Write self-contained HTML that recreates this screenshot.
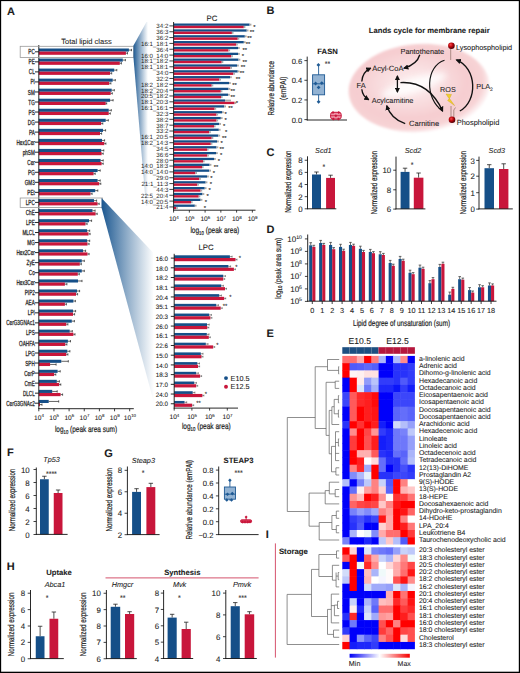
<!DOCTYPE html>
<html><head><meta charset="utf-8"><title>Figure</title>
<style>
html,body{margin:0;padding:0;background:#fff;}
body{width:520px;height:673px;overflow:hidden;}
svg{display:block;font-family:"Liberation Sans", sans-serif;text-rendering:geometricPrecision;}
svg text{fill:#1c1c1c;stroke:#1c1c1c;stroke-width:0.08px;}
</style></head>
<body>
<svg width="520" height="673" viewBox="0 0 520 673">
<rect x="0" y="0" width="520" height="673" fill="#fff"/>
<text x="7.00" y="14.80" font-size="11" font-weight="bold" fill="#000">A</text>
<text x="86.50" y="43.50" font-size="7.5" text-anchor="middle">Total lipid class</text>
<rect x="38.80" y="48.50" width="90.10" height="3.10" fill="#154f88"/>
<rect x="38.80" y="51.60" width="87.10" height="3.20" fill="#c8163b"/>
<line x1="128.90" y1="50.05" x2="131.50" y2="50.05" stroke="#222" stroke-width="0.7"/>
<line x1="131.50" y1="48.90" x2="131.50" y2="51.20" stroke="#222" stroke-width="0.7"/>
<line x1="125.90" y1="53.20" x2="127.50" y2="53.20" stroke="#222" stroke-width="0.7"/>
<line x1="127.50" y1="52.10" x2="127.50" y2="54.40" stroke="#222" stroke-width="0.7"/>
<line x1="35.00" y1="51.80" x2="38.80" y2="51.80" stroke="#111" stroke-width="0.9"/>
<text x="34.80" y="54.35" font-size="7.3" text-anchor="end" textLength="6.44" lengthAdjust="spacingAndGlyphs" style="stroke-width:0.28px">PC</text>
<rect x="38.80" y="58.54" width="84.00" height="3.10" fill="#154f88"/>
<rect x="38.80" y="61.64" width="81.00" height="3.20" fill="#c8163b"/>
<line x1="122.80" y1="60.09" x2="125.40" y2="60.09" stroke="#222" stroke-width="0.7"/>
<line x1="125.40" y1="58.94" x2="125.40" y2="61.24" stroke="#222" stroke-width="0.7"/>
<line x1="119.80" y1="63.24" x2="121.40" y2="63.24" stroke="#222" stroke-width="0.7"/>
<line x1="121.40" y1="62.14" x2="121.40" y2="64.44" stroke="#222" stroke-width="0.7"/>
<line x1="35.00" y1="61.84" x2="38.80" y2="61.84" stroke="#111" stroke-width="0.9"/>
<text x="34.80" y="64.39" font-size="7.3" text-anchor="end" textLength="6.18" lengthAdjust="spacingAndGlyphs" style="stroke-width:0.28px">PE</text>
<rect x="38.80" y="68.58" width="75.40" height="3.10" fill="#154f88"/>
<rect x="38.80" y="71.68" width="71.30" height="3.20" fill="#c8163b"/>
<line x1="114.20" y1="70.13" x2="116.80" y2="70.13" stroke="#222" stroke-width="0.7"/>
<line x1="116.80" y1="68.98" x2="116.80" y2="71.28" stroke="#222" stroke-width="0.7"/>
<line x1="110.10" y1="73.28" x2="111.70" y2="73.28" stroke="#222" stroke-width="0.7"/>
<line x1="111.70" y1="72.18" x2="111.70" y2="74.48" stroke="#222" stroke-width="0.7"/>
<line x1="35.00" y1="71.88" x2="38.80" y2="71.88" stroke="#111" stroke-width="0.9"/>
<text x="34.80" y="74.43" font-size="7.3" text-anchor="end" textLength="5.93" lengthAdjust="spacingAndGlyphs" style="stroke-width:0.28px">CL</text>
<rect x="38.80" y="78.62" width="73.90" height="3.10" fill="#154f88"/>
<rect x="38.80" y="81.72" width="70.50" height="3.20" fill="#c8163b"/>
<line x1="112.70" y1="80.17" x2="115.30" y2="80.17" stroke="#222" stroke-width="0.7"/>
<line x1="115.30" y1="79.02" x2="115.30" y2="81.32" stroke="#222" stroke-width="0.7"/>
<line x1="109.30" y1="83.32" x2="110.90" y2="83.32" stroke="#222" stroke-width="0.7"/>
<line x1="110.90" y1="82.22" x2="110.90" y2="84.52" stroke="#222" stroke-width="0.7"/>
<line x1="35.00" y1="81.92" x2="38.80" y2="81.92" stroke="#111" stroke-width="0.9"/>
<text x="34.80" y="84.47" font-size="7.3" text-anchor="end" textLength="4.38" lengthAdjust="spacingAndGlyphs" style="stroke-width:0.28px">PI</text>
<rect x="38.80" y="88.66" width="72.90" height="3.10" fill="#154f88"/>
<rect x="38.80" y="91.76" width="71.90" height="3.20" fill="#c8163b"/>
<line x1="111.70" y1="90.21" x2="114.30" y2="90.21" stroke="#222" stroke-width="0.7"/>
<line x1="114.30" y1="89.06" x2="114.30" y2="91.36" stroke="#222" stroke-width="0.7"/>
<line x1="110.70" y1="93.36" x2="112.30" y2="93.36" stroke="#222" stroke-width="0.7"/>
<line x1="112.30" y1="92.26" x2="112.30" y2="94.56" stroke="#222" stroke-width="0.7"/>
<line x1="35.00" y1="91.96" x2="38.80" y2="91.96" stroke="#111" stroke-width="0.9"/>
<text x="34.80" y="94.51" font-size="7.3" text-anchor="end" textLength="6.95" lengthAdjust="spacingAndGlyphs" style="stroke-width:0.28px">SM</text>
<rect x="38.80" y="98.70" width="71.30" height="3.10" fill="#154f88"/>
<rect x="38.80" y="101.80" width="66.90" height="3.20" fill="#c8163b"/>
<line x1="110.10" y1="100.25" x2="113.10" y2="100.25" stroke="#222" stroke-width="0.7"/>
<line x1="113.10" y1="99.10" x2="113.10" y2="101.40" stroke="#222" stroke-width="0.7"/>
<line x1="105.70" y1="103.40" x2="106.70" y2="103.40" stroke="#222" stroke-width="0.7"/>
<line x1="106.70" y1="102.30" x2="106.70" y2="104.60" stroke="#222" stroke-width="0.7"/>
<line x1="35.00" y1="102.00" x2="38.80" y2="102.00" stroke="#111" stroke-width="0.9"/>
<text x="34.80" y="104.55" font-size="7.3" text-anchor="end" textLength="6.44" lengthAdjust="spacingAndGlyphs" style="stroke-width:0.28px">TG</text>
<rect x="38.80" y="108.74" width="69.90" height="3.10" fill="#154f88"/>
<rect x="38.80" y="111.84" width="69.90" height="3.20" fill="#c8163b"/>
<line x1="108.70" y1="110.29" x2="111.30" y2="110.29" stroke="#222" stroke-width="0.7"/>
<line x1="111.30" y1="109.14" x2="111.30" y2="111.44" stroke="#222" stroke-width="0.7"/>
<line x1="108.70" y1="113.44" x2="110.30" y2="113.44" stroke="#222" stroke-width="0.7"/>
<line x1="110.30" y1="112.34" x2="110.30" y2="114.64" stroke="#222" stroke-width="0.7"/>
<line x1="35.00" y1="112.04" x2="38.80" y2="112.04" stroke="#111" stroke-width="0.9"/>
<text x="34.80" y="114.59" font-size="7.3" text-anchor="end" textLength="6.18" lengthAdjust="spacingAndGlyphs" style="stroke-width:0.28px">PS</text>
<rect x="38.80" y="118.78" width="66.90" height="3.10" fill="#154f88"/>
<rect x="38.80" y="121.88" width="62.40" height="3.20" fill="#c8163b"/>
<line x1="105.70" y1="120.33" x2="108.30" y2="120.33" stroke="#222" stroke-width="0.7"/>
<line x1="108.30" y1="119.18" x2="108.30" y2="121.48" stroke="#222" stroke-width="0.7"/>
<line x1="101.20" y1="123.48" x2="102.80" y2="123.48" stroke="#222" stroke-width="0.7"/>
<line x1="102.80" y1="122.38" x2="102.80" y2="124.68" stroke="#222" stroke-width="0.7"/>
<line x1="35.00" y1="122.08" x2="38.80" y2="122.08" stroke="#111" stroke-width="0.9"/>
<text x="34.80" y="124.63" font-size="7.3" text-anchor="end" textLength="6.95" lengthAdjust="spacingAndGlyphs" style="stroke-width:0.28px">DG</text>
<rect x="38.80" y="128.82" width="64.20" height="3.10" fill="#154f88"/>
<rect x="38.80" y="131.92" width="61.20" height="3.20" fill="#c8163b"/>
<line x1="103.00" y1="130.37" x2="105.60" y2="130.37" stroke="#222" stroke-width="0.7"/>
<line x1="105.60" y1="129.22" x2="105.60" y2="131.52" stroke="#222" stroke-width="0.7"/>
<line x1="100.00" y1="133.52" x2="101.60" y2="133.52" stroke="#222" stroke-width="0.7"/>
<line x1="101.60" y1="132.42" x2="101.60" y2="134.72" stroke="#222" stroke-width="0.7"/>
<line x1="35.00" y1="132.12" x2="38.80" y2="132.12" stroke="#111" stroke-width="0.9"/>
<text x="34.80" y="134.67" font-size="7.3" text-anchor="end" textLength="5.84" lengthAdjust="spacingAndGlyphs" style="stroke-width:0.28px">PA</text>
<rect x="38.80" y="138.86" width="63.20" height="3.10" fill="#154f88"/>
<rect x="38.80" y="141.96" width="65.50" height="3.20" fill="#c8163b"/>
<line x1="102.00" y1="140.41" x2="104.60" y2="140.41" stroke="#222" stroke-width="0.7"/>
<line x1="104.60" y1="139.26" x2="104.60" y2="141.56" stroke="#222" stroke-width="0.7"/>
<line x1="104.30" y1="143.56" x2="105.90" y2="143.56" stroke="#222" stroke-width="0.7"/>
<line x1="105.90" y1="142.46" x2="105.90" y2="144.76" stroke="#222" stroke-width="0.7"/>
<line x1="35.00" y1="142.16" x2="38.80" y2="142.16" stroke="#111" stroke-width="0.9"/>
<text x="34.80" y="144.71" font-size="7.3" text-anchor="end" textLength="18.29" lengthAdjust="spacingAndGlyphs" style="stroke-width:0.28px">Hex1Cer</text>
<rect x="38.80" y="148.90" width="62.40" height="3.10" fill="#154f88"/>
<rect x="38.80" y="152.00" width="62.80" height="3.20" fill="#c8163b"/>
<line x1="101.20" y1="150.45" x2="103.80" y2="150.45" stroke="#222" stroke-width="0.7"/>
<line x1="103.80" y1="149.30" x2="103.80" y2="151.60" stroke="#222" stroke-width="0.7"/>
<line x1="101.60" y1="153.60" x2="103.20" y2="153.60" stroke="#222" stroke-width="0.7"/>
<line x1="103.20" y1="152.50" x2="103.20" y2="154.80" stroke="#222" stroke-width="0.7"/>
<line x1="35.00" y1="152.20" x2="38.80" y2="152.20" stroke="#111" stroke-width="0.9"/>
<text x="34.80" y="154.75" font-size="7.3" text-anchor="end" textLength="12.11" lengthAdjust="spacingAndGlyphs" style="stroke-width:0.28px">phSM</text>
<rect x="38.80" y="158.94" width="61.80" height="3.10" fill="#154f88"/>
<rect x="38.80" y="162.04" width="62.80" height="3.20" fill="#c8163b"/>
<line x1="100.60" y1="160.49" x2="103.20" y2="160.49" stroke="#222" stroke-width="0.7"/>
<line x1="103.20" y1="159.34" x2="103.20" y2="161.64" stroke="#222" stroke-width="0.7"/>
<line x1="101.60" y1="163.64" x2="103.20" y2="163.64" stroke="#222" stroke-width="0.7"/>
<line x1="103.20" y1="162.54" x2="103.20" y2="164.84" stroke="#222" stroke-width="0.7"/>
<line x1="35.00" y1="162.24" x2="38.80" y2="162.24" stroke="#111" stroke-width="0.9"/>
<text x="34.80" y="164.79" font-size="7.3" text-anchor="end" textLength="7.47" lengthAdjust="spacingAndGlyphs" style="stroke-width:0.28px">Cer</text>
<rect x="38.80" y="168.98" width="58.80" height="3.10" fill="#154f88"/>
<rect x="38.80" y="172.08" width="54.80" height="3.20" fill="#c8163b"/>
<line x1="97.60" y1="170.53" x2="100.20" y2="170.53" stroke="#222" stroke-width="0.7"/>
<line x1="100.20" y1="169.38" x2="100.20" y2="171.68" stroke="#222" stroke-width="0.7"/>
<line x1="93.60" y1="173.68" x2="95.20" y2="173.68" stroke="#222" stroke-width="0.7"/>
<line x1="95.20" y1="172.58" x2="95.20" y2="174.88" stroke="#222" stroke-width="0.7"/>
<line x1="35.00" y1="172.28" x2="38.80" y2="172.28" stroke="#111" stroke-width="0.9"/>
<text x="34.80" y="174.83" font-size="7.3" text-anchor="end" textLength="6.70" lengthAdjust="spacingAndGlyphs" style="stroke-width:0.28px">PG</text>
<rect x="38.80" y="179.02" width="58.80" height="3.10" fill="#154f88"/>
<rect x="38.80" y="182.12" width="60.40" height="3.20" fill="#c8163b"/>
<line x1="97.60" y1="180.57" x2="100.20" y2="180.57" stroke="#222" stroke-width="0.7"/>
<line x1="100.20" y1="179.42" x2="100.20" y2="181.72" stroke="#222" stroke-width="0.7"/>
<line x1="99.20" y1="183.72" x2="100.80" y2="183.72" stroke="#222" stroke-width="0.7"/>
<line x1="100.80" y1="182.62" x2="100.80" y2="184.92" stroke="#222" stroke-width="0.7"/>
<line x1="35.00" y1="182.32" x2="38.80" y2="182.32" stroke="#111" stroke-width="0.9"/>
<text x="34.80" y="184.87" font-size="7.3" text-anchor="end" textLength="10.04" lengthAdjust="spacingAndGlyphs" style="stroke-width:0.28px">GM3</text>
<rect x="38.80" y="189.06" width="56.40" height="3.10" fill="#154f88"/>
<rect x="38.80" y="192.16" width="51.70" height="3.20" fill="#c8163b"/>
<line x1="95.20" y1="190.61" x2="97.80" y2="190.61" stroke="#222" stroke-width="0.7"/>
<line x1="97.80" y1="189.46" x2="97.80" y2="191.76" stroke="#222" stroke-width="0.7"/>
<line x1="90.50" y1="193.76" x2="92.10" y2="193.76" stroke="#222" stroke-width="0.7"/>
<line x1="92.10" y1="192.66" x2="92.10" y2="194.96" stroke="#222" stroke-width="0.7"/>
<line x1="35.00" y1="192.36" x2="38.80" y2="192.36" stroke="#111" stroke-width="0.9"/>
<text x="34.80" y="194.91" font-size="7.3" text-anchor="end" textLength="7.47" lengthAdjust="spacingAndGlyphs" style="stroke-width:0.28px">PEt</text>
<rect x="38.80" y="199.10" width="55.20" height="3.10" fill="#154f88"/>
<rect x="38.80" y="202.20" width="58.80" height="3.20" fill="#c8163b"/>
<line x1="94.00" y1="200.65" x2="96.60" y2="200.65" stroke="#222" stroke-width="0.7"/>
<line x1="96.60" y1="199.50" x2="96.60" y2="201.80" stroke="#222" stroke-width="0.7"/>
<line x1="97.60" y1="203.80" x2="99.20" y2="203.80" stroke="#222" stroke-width="0.7"/>
<line x1="99.20" y1="202.70" x2="99.20" y2="205.00" stroke="#222" stroke-width="0.7"/>
<line x1="35.00" y1="202.40" x2="38.80" y2="202.40" stroke="#111" stroke-width="0.9"/>
<text x="34.80" y="204.95" font-size="7.3" text-anchor="end" textLength="9.02" lengthAdjust="spacingAndGlyphs" style="stroke-width:0.28px">LPC</text>
<rect x="38.80" y="209.14" width="53.70" height="3.10" fill="#154f88"/>
<rect x="38.80" y="212.24" width="56.80" height="3.20" fill="#c8163b"/>
<line x1="92.50" y1="210.69" x2="95.10" y2="210.69" stroke="#222" stroke-width="0.7"/>
<line x1="95.10" y1="209.54" x2="95.10" y2="211.84" stroke="#222" stroke-width="0.7"/>
<line x1="95.60" y1="213.84" x2="97.20" y2="213.84" stroke="#222" stroke-width="0.7"/>
<line x1="97.20" y1="212.74" x2="97.20" y2="215.04" stroke="#222" stroke-width="0.7"/>
<line x1="35.00" y1="212.44" x2="38.80" y2="212.44" stroke="#111" stroke-width="0.9"/>
<text x="34.80" y="214.99" font-size="7.3" text-anchor="end" textLength="9.02" lengthAdjust="spacingAndGlyphs" style="stroke-width:0.28px">ChE</text>
<rect x="38.80" y="219.18" width="50.20" height="3.10" fill="#154f88"/>
<rect x="38.80" y="222.28" width="46.70" height="3.20" fill="#c8163b"/>
<line x1="89.00" y1="220.73" x2="91.60" y2="220.73" stroke="#222" stroke-width="0.7"/>
<line x1="91.60" y1="219.58" x2="91.60" y2="221.88" stroke="#222" stroke-width="0.7"/>
<line x1="85.50" y1="223.88" x2="87.10" y2="223.88" stroke="#222" stroke-width="0.7"/>
<line x1="87.10" y1="222.78" x2="87.10" y2="225.08" stroke="#222" stroke-width="0.7"/>
<line x1="35.00" y1="222.48" x2="38.80" y2="222.48" stroke="#111" stroke-width="0.9"/>
<text x="34.80" y="225.03" font-size="7.3" text-anchor="end" textLength="8.76" lengthAdjust="spacingAndGlyphs" style="stroke-width:0.28px">LPE</text>
<rect x="38.80" y="229.22" width="48.30" height="3.10" fill="#154f88"/>
<rect x="38.80" y="232.32" width="49.70" height="3.20" fill="#c8163b"/>
<line x1="87.10" y1="230.77" x2="89.70" y2="230.77" stroke="#222" stroke-width="0.7"/>
<line x1="89.70" y1="229.62" x2="89.70" y2="231.92" stroke="#222" stroke-width="0.7"/>
<line x1="88.50" y1="233.92" x2="90.10" y2="233.92" stroke="#222" stroke-width="0.7"/>
<line x1="90.10" y1="232.82" x2="90.10" y2="235.12" stroke="#222" stroke-width="0.7"/>
<line x1="35.00" y1="232.52" x2="38.80" y2="232.52" stroke="#111" stroke-width="0.9"/>
<text x="34.80" y="235.07" font-size="7.3" text-anchor="end" textLength="12.36" lengthAdjust="spacingAndGlyphs" style="stroke-width:0.28px">MLCL</text>
<rect x="38.80" y="239.26" width="48.30" height="3.10" fill="#154f88"/>
<rect x="38.80" y="242.36" width="48.70" height="3.20" fill="#c8163b"/>
<line x1="87.10" y1="240.81" x2="89.70" y2="240.81" stroke="#222" stroke-width="0.7"/>
<line x1="89.70" y1="239.66" x2="89.70" y2="241.96" stroke="#222" stroke-width="0.7"/>
<line x1="87.50" y1="243.96" x2="89.10" y2="243.96" stroke="#222" stroke-width="0.7"/>
<line x1="89.10" y1="242.86" x2="89.10" y2="245.16" stroke="#222" stroke-width="0.7"/>
<line x1="35.00" y1="242.56" x2="38.80" y2="242.56" stroke="#111" stroke-width="0.9"/>
<text x="34.80" y="245.11" font-size="7.3" text-anchor="end" textLength="7.47" lengthAdjust="spacingAndGlyphs" style="stroke-width:0.28px">MG</text>
<rect x="38.80" y="249.30" width="44.20" height="3.10" fill="#154f88"/>
<rect x="38.80" y="252.40" width="48.70" height="3.20" fill="#c8163b"/>
<line x1="83.00" y1="250.85" x2="85.60" y2="250.85" stroke="#222" stroke-width="0.7"/>
<line x1="85.60" y1="249.70" x2="85.60" y2="252.00" stroke="#222" stroke-width="0.7"/>
<line x1="87.50" y1="254.00" x2="89.10" y2="254.00" stroke="#222" stroke-width="0.7"/>
<line x1="89.10" y1="252.90" x2="89.10" y2="255.20" stroke="#222" stroke-width="0.7"/>
<line x1="35.00" y1="252.60" x2="38.80" y2="252.60" stroke="#111" stroke-width="0.9"/>
<text x="34.80" y="255.15" font-size="7.3" text-anchor="end" textLength="18.29" lengthAdjust="spacingAndGlyphs" style="stroke-width:0.28px">Hex2Cer</text>
<rect x="38.80" y="259.34" width="43.00" height="3.10" fill="#154f88"/>
<rect x="38.80" y="262.44" width="41.00" height="3.20" fill="#c8163b"/>
<line x1="81.80" y1="260.89" x2="84.30" y2="260.89" stroke="#222" stroke-width="0.7"/>
<line x1="84.30" y1="259.74" x2="84.30" y2="262.04" stroke="#222" stroke-width="0.7"/>
<line x1="79.80" y1="264.04" x2="81.30" y2="264.04" stroke="#222" stroke-width="0.7"/>
<line x1="81.30" y1="262.94" x2="81.30" y2="265.24" stroke="#222" stroke-width="0.7"/>
<line x1="35.00" y1="262.64" x2="38.80" y2="262.64" stroke="#111" stroke-width="0.9"/>
<text x="34.80" y="265.19" font-size="7.3" text-anchor="end" textLength="8.24" lengthAdjust="spacingAndGlyphs" style="stroke-width:0.28px">ZyE</text>
<rect x="38.80" y="269.38" width="43.00" height="3.10" fill="#154f88"/>
<rect x="38.80" y="272.48" width="39.00" height="3.20" fill="#c8163b"/>
<line x1="81.80" y1="270.93" x2="84.30" y2="270.93" stroke="#222" stroke-width="0.7"/>
<line x1="84.30" y1="269.78" x2="84.30" y2="272.08" stroke="#222" stroke-width="0.7"/>
<line x1="77.80" y1="274.08" x2="79.30" y2="274.08" stroke="#222" stroke-width="0.7"/>
<line x1="79.30" y1="272.98" x2="79.30" y2="275.28" stroke="#222" stroke-width="0.7"/>
<line x1="35.00" y1="272.68" x2="38.80" y2="272.68" stroke="#111" stroke-width="0.9"/>
<text x="34.80" y="275.23" font-size="7.3" text-anchor="end" textLength="5.93" lengthAdjust="spacingAndGlyphs" style="stroke-width:0.28px">Co</text>
<rect x="38.80" y="279.42" width="39.20" height="3.10" fill="#154f88"/>
<rect x="38.80" y="282.52" width="26.10" height="3.20" fill="#c8163b"/>
<line x1="78.00" y1="280.97" x2="82.00" y2="280.97" stroke="#222" stroke-width="0.7"/>
<line x1="82.00" y1="279.82" x2="82.00" y2="282.12" stroke="#222" stroke-width="0.7"/>
<line x1="64.90" y1="284.12" x2="66.90" y2="284.12" stroke="#222" stroke-width="0.7"/>
<line x1="66.90" y1="283.02" x2="66.90" y2="285.32" stroke="#222" stroke-width="0.7"/>
<line x1="35.00" y1="282.72" x2="38.80" y2="282.72" stroke="#111" stroke-width="0.9"/>
<text x="34.80" y="285.27" font-size="7.3" text-anchor="end" textLength="18.29" lengthAdjust="spacingAndGlyphs" style="stroke-width:0.28px">Hex3Cer</text>
<rect x="38.80" y="289.46" width="38.20" height="3.10" fill="#154f88"/>
<rect x="38.80" y="292.56" width="37.20" height="3.20" fill="#c8163b"/>
<line x1="77.00" y1="291.01" x2="79.60" y2="291.01" stroke="#222" stroke-width="0.7"/>
<line x1="79.60" y1="289.86" x2="79.60" y2="292.16" stroke="#222" stroke-width="0.7"/>
<line x1="76.00" y1="294.16" x2="77.60" y2="294.16" stroke="#222" stroke-width="0.7"/>
<line x1="77.60" y1="293.06" x2="77.60" y2="295.36" stroke="#222" stroke-width="0.7"/>
<line x1="35.00" y1="292.76" x2="38.80" y2="292.76" stroke="#111" stroke-width="0.9"/>
<text x="34.80" y="295.31" font-size="7.3" text-anchor="end" textLength="10.05" lengthAdjust="spacingAndGlyphs" style="stroke-width:0.28px">PIP2</text>
<rect x="38.80" y="299.50" width="34.60" height="3.10" fill="#154f88"/>
<rect x="38.80" y="302.60" width="26.10" height="3.20" fill="#c8163b"/>
<line x1="73.40" y1="301.05" x2="75.40" y2="301.05" stroke="#222" stroke-width="0.7"/>
<line x1="75.40" y1="299.90" x2="75.40" y2="302.20" stroke="#222" stroke-width="0.7"/>
<line x1="64.90" y1="304.20" x2="66.40" y2="304.20" stroke="#222" stroke-width="0.7"/>
<line x1="66.40" y1="303.10" x2="66.40" y2="305.40" stroke="#222" stroke-width="0.7"/>
<line x1="35.00" y1="302.80" x2="38.80" y2="302.80" stroke="#111" stroke-width="0.9"/>
<text x="34.80" y="305.35" font-size="7.3" text-anchor="end" textLength="9.28" lengthAdjust="spacingAndGlyphs" style="stroke-width:0.28px">AEA</text>
<rect x="38.80" y="309.54" width="34.20" height="3.10" fill="#154f88"/>
<rect x="38.80" y="312.64" width="34.20" height="3.20" fill="#c8163b"/>
<line x1="73.00" y1="311.09" x2="75.60" y2="311.09" stroke="#222" stroke-width="0.7"/>
<line x1="75.60" y1="309.94" x2="75.60" y2="312.24" stroke="#222" stroke-width="0.7"/>
<line x1="73.00" y1="314.24" x2="74.60" y2="314.24" stroke="#222" stroke-width="0.7"/>
<line x1="74.60" y1="313.14" x2="74.60" y2="315.44" stroke="#222" stroke-width="0.7"/>
<line x1="35.00" y1="312.84" x2="38.80" y2="312.84" stroke="#111" stroke-width="0.9"/>
<text x="34.80" y="315.39" font-size="7.3" text-anchor="end" textLength="6.96" lengthAdjust="spacingAndGlyphs" style="stroke-width:0.28px">LPI</text>
<rect x="38.80" y="319.58" width="33.00" height="3.10" fill="#154f88"/>
<rect x="38.80" y="322.68" width="27.50" height="3.20" fill="#c8163b"/>
<line x1="71.80" y1="321.13" x2="74.40" y2="321.13" stroke="#222" stroke-width="0.7"/>
<line x1="74.40" y1="319.98" x2="74.40" y2="322.28" stroke="#222" stroke-width="0.7"/>
<line x1="66.30" y1="324.28" x2="67.90" y2="324.28" stroke="#222" stroke-width="0.7"/>
<line x1="67.90" y1="323.18" x2="67.90" y2="325.48" stroke="#222" stroke-width="0.7"/>
<line x1="35.00" y1="322.88" x2="38.80" y2="322.88" stroke="#111" stroke-width="0.9"/>
<text x="34.80" y="325.43" font-size="7.3" text-anchor="end" textLength="28.59" lengthAdjust="spacingAndGlyphs" style="stroke-width:0.28px">CerG3GNAc1</text>
<rect x="38.80" y="329.62" width="30.90" height="3.10" fill="#154f88"/>
<rect x="38.80" y="332.72" width="34.60" height="3.20" fill="#c8163b"/>
<line x1="69.70" y1="331.17" x2="72.30" y2="331.17" stroke="#222" stroke-width="0.7"/>
<line x1="72.30" y1="330.02" x2="72.30" y2="332.32" stroke="#222" stroke-width="0.7"/>
<line x1="73.40" y1="334.32" x2="75.00" y2="334.32" stroke="#222" stroke-width="0.7"/>
<line x1="75.00" y1="333.22" x2="75.00" y2="335.52" stroke="#222" stroke-width="0.7"/>
<line x1="35.00" y1="332.92" x2="38.80" y2="332.92" stroke="#111" stroke-width="0.9"/>
<text x="34.80" y="335.47" font-size="7.3" text-anchor="end" textLength="8.76" lengthAdjust="spacingAndGlyphs" style="stroke-width:0.28px">LPS</text>
<rect x="38.80" y="339.66" width="29.10" height="3.10" fill="#154f88"/>
<rect x="38.80" y="342.76" width="26.50" height="3.20" fill="#c8163b"/>
<line x1="67.90" y1="341.21" x2="70.50" y2="341.21" stroke="#222" stroke-width="0.7"/>
<line x1="70.50" y1="340.06" x2="70.50" y2="342.36" stroke="#222" stroke-width="0.7"/>
<line x1="65.30" y1="344.36" x2="66.90" y2="344.36" stroke="#222" stroke-width="0.7"/>
<line x1="66.90" y1="343.26" x2="66.90" y2="345.56" stroke="#222" stroke-width="0.7"/>
<line x1="35.00" y1="342.96" x2="38.80" y2="342.96" stroke="#111" stroke-width="0.9"/>
<text x="34.80" y="345.51" font-size="7.3" text-anchor="end" textLength="15.71" lengthAdjust="spacingAndGlyphs" style="stroke-width:0.28px">OAHFA</text>
<rect x="38.80" y="349.70" width="28.50" height="3.10" fill="#154f88"/>
<rect x="38.80" y="352.80" width="27.50" height="3.20" fill="#c8163b"/>
<line x1="67.30" y1="351.25" x2="69.90" y2="351.25" stroke="#222" stroke-width="0.7"/>
<line x1="69.90" y1="350.10" x2="69.90" y2="352.40" stroke="#222" stroke-width="0.7"/>
<line x1="66.30" y1="354.40" x2="67.90" y2="354.40" stroke="#222" stroke-width="0.7"/>
<line x1="67.90" y1="353.30" x2="67.90" y2="355.60" stroke="#222" stroke-width="0.7"/>
<line x1="35.00" y1="353.00" x2="38.80" y2="353.00" stroke="#111" stroke-width="0.9"/>
<text x="34.80" y="355.55" font-size="7.3" text-anchor="end" textLength="9.28" lengthAdjust="spacingAndGlyphs" style="stroke-width:0.28px">LPG</text>
<rect x="38.80" y="359.74" width="22.50" height="3.10" fill="#154f88"/>
<rect x="38.80" y="362.84" width="11.30" height="3.20" fill="#c8163b"/>
<line x1="61.30" y1="361.29" x2="68.30" y2="361.29" stroke="#222" stroke-width="0.7"/>
<line x1="68.30" y1="360.14" x2="68.30" y2="362.44" stroke="#222" stroke-width="0.7"/>
<line x1="50.10" y1="364.44" x2="56.10" y2="364.44" stroke="#222" stroke-width="0.7"/>
<line x1="56.10" y1="363.34" x2="56.10" y2="365.64" stroke="#222" stroke-width="0.7"/>
<line x1="35.00" y1="363.04" x2="38.80" y2="363.04" stroke="#111" stroke-width="0.9"/>
<text x="34.80" y="365.59" font-size="7.3" text-anchor="end" textLength="9.53" lengthAdjust="spacingAndGlyphs" style="stroke-width:0.28px">SPH</text>
<rect x="38.80" y="369.78" width="18.80" height="3.10" fill="#154f88"/>
<rect x="38.80" y="372.88" width="15.40" height="3.20" fill="#c8163b"/>
<line x1="57.60" y1="371.33" x2="60.20" y2="371.33" stroke="#222" stroke-width="0.7"/>
<line x1="60.20" y1="370.18" x2="60.20" y2="372.48" stroke="#222" stroke-width="0.7"/>
<line x1="54.20" y1="374.48" x2="55.80" y2="374.48" stroke="#222" stroke-width="0.7"/>
<line x1="55.80" y1="373.38" x2="55.80" y2="375.68" stroke="#222" stroke-width="0.7"/>
<line x1="35.00" y1="373.08" x2="38.80" y2="373.08" stroke="#111" stroke-width="0.9"/>
<text x="34.80" y="375.63" font-size="7.3" text-anchor="end" textLength="10.56" lengthAdjust="spacingAndGlyphs" style="stroke-width:0.28px">CerP</text>
<rect x="38.80" y="379.82" width="18.00" height="3.10" fill="#154f88"/>
<rect x="38.80" y="382.92" width="20.40" height="3.20" fill="#c8163b"/>
<line x1="56.80" y1="381.37" x2="59.40" y2="381.37" stroke="#222" stroke-width="0.7"/>
<line x1="59.40" y1="380.22" x2="59.40" y2="382.52" stroke="#222" stroke-width="0.7"/>
<line x1="59.20" y1="384.52" x2="60.80" y2="384.52" stroke="#222" stroke-width="0.7"/>
<line x1="60.80" y1="383.42" x2="60.80" y2="385.72" stroke="#222" stroke-width="0.7"/>
<line x1="35.00" y1="383.12" x2="38.80" y2="383.12" stroke="#111" stroke-width="0.9"/>
<text x="34.80" y="385.67" font-size="7.3" text-anchor="end" textLength="10.30" lengthAdjust="spacingAndGlyphs" style="stroke-width:0.28px">CmE</text>
<rect x="38.80" y="389.86" width="13.40" height="3.10" fill="#154f88"/>
<rect x="38.80" y="392.96" width="21.80" height="3.20" fill="#c8163b"/>
<line x1="52.20" y1="391.41" x2="57.20" y2="391.41" stroke="#222" stroke-width="0.7"/>
<line x1="57.20" y1="390.26" x2="57.20" y2="392.56" stroke="#222" stroke-width="0.7"/>
<line x1="60.60" y1="394.56" x2="62.60" y2="394.56" stroke="#222" stroke-width="0.7"/>
<line x1="62.60" y1="393.46" x2="62.60" y2="395.76" stroke="#222" stroke-width="0.7"/>
<line x1="35.00" y1="393.16" x2="38.80" y2="393.16" stroke="#111" stroke-width="0.9"/>
<text x="34.80" y="395.71" font-size="7.3" text-anchor="end" textLength="11.85" lengthAdjust="spacingAndGlyphs" style="stroke-width:0.28px">DLCL</text>
<rect x="38.80" y="399.90" width="9.90" height="3.10" fill="#154f88"/>
<rect x="38.80" y="403.00" width="1.20" height="3.20" fill="#c8163b"/>
<line x1="48.70" y1="401.45" x2="58.70" y2="401.45" stroke="#222" stroke-width="0.7"/>
<line x1="58.70" y1="400.30" x2="58.70" y2="402.60" stroke="#222" stroke-width="0.7"/>
<line x1="40.00" y1="404.60" x2="42.00" y2="404.60" stroke="#222" stroke-width="0.7"/>
<line x1="42.00" y1="403.50" x2="42.00" y2="405.80" stroke="#222" stroke-width="0.7"/>
<line x1="35.00" y1="403.20" x2="38.80" y2="403.20" stroke="#111" stroke-width="0.9"/>
<text x="34.80" y="405.75" font-size="7.3" text-anchor="end" textLength="28.59" lengthAdjust="spacingAndGlyphs" style="stroke-width:0.28px">CerG3GNAc2</text>
<line x1="38.80" y1="45.00" x2="38.80" y2="409.00" stroke="#111" stroke-width="0.9"/>
<line x1="38.40" y1="408.70" x2="133.80" y2="408.70" stroke="#111" stroke-width="0.9"/>
<line x1="38.80" y1="408.70" x2="38.80" y2="411.30" stroke="#111" stroke-width="0.8"/>
<text x="39.00" y="419.9" font-size="6.6" text-anchor="middle">10<tspan font-size="4.4" dy="-2.7">4</tspan></text>
<line x1="53.95" y1="408.70" x2="53.95" y2="411.30" stroke="#111" stroke-width="0.8"/>
<text x="54.15" y="419.9" font-size="6.6" text-anchor="middle">10<tspan font-size="4.4" dy="-2.7">5</tspan></text>
<line x1="69.10" y1="408.70" x2="69.10" y2="411.30" stroke="#111" stroke-width="0.8"/>
<text x="69.30" y="419.9" font-size="6.6" text-anchor="middle">10<tspan font-size="4.4" dy="-2.7">6</tspan></text>
<line x1="84.25" y1="408.70" x2="84.25" y2="411.30" stroke="#111" stroke-width="0.8"/>
<text x="84.45" y="419.9" font-size="6.6" text-anchor="middle">10<tspan font-size="4.4" dy="-2.7">7</tspan></text>
<line x1="99.40" y1="408.70" x2="99.40" y2="411.30" stroke="#111" stroke-width="0.8"/>
<text x="99.60" y="419.9" font-size="6.6" text-anchor="middle">10<tspan font-size="4.4" dy="-2.7">8</tspan></text>
<line x1="114.55" y1="408.70" x2="114.55" y2="411.30" stroke="#111" stroke-width="0.8"/>
<text x="114.75" y="419.9" font-size="6.6" text-anchor="middle">10<tspan font-size="4.4" dy="-2.7">9</tspan></text>
<line x1="129.70" y1="408.70" x2="129.70" y2="411.30" stroke="#111" stroke-width="0.8"/>
<text x="129.90" y="419.9" font-size="6.6" text-anchor="middle">10<tspan font-size="4.4" dy="-2.7">10</tspan></text>
<text transform="translate(86,431.8) scale(0.76,1)" font-size="8.5" style="stroke-width:0.2px" text-anchor="middle">log<tspan font-size="5.6" dy="1.8">10</tspan><tspan dy="-1.8"> (peak area sum)</tspan></text>
<rect x="20.2" y="46.3" width="113.5" height="11.2" fill="none" stroke="#999" stroke-width="0.8"/>
<rect x="20.2" y="198" width="82.3" height="9.4" fill="none" stroke="#999" stroke-width="0.8"/>
<defs><linearGradient id="gw1" x1="133" y1="0" x2="148" y2="0" gradientUnits="userSpaceOnUse"><stop offset="0" stop-color="#17548e"/><stop offset="1" stop-color="#ffffff" stop-opacity="0.9"/></linearGradient><linearGradient id="gw2" x1="101" y1="0" x2="154" y2="0" gradientUnits="userSpaceOnUse"><stop offset="0" stop-color="#17548e"/><stop offset="1" stop-color="#ffffff" stop-opacity="0.9"/></linearGradient></defs>
<polygon points="146.5,22 133.5,45.5 133.5,58 146,206 148.5,206 148.5,22" fill="url(#gw1)"/>
<polygon points="101.5,198 153,252.5 154.3,404 101.5,207.4" fill="url(#gw2)"/>
<text x="212.00" y="21.00" font-size="7.8" text-anchor="middle">PC</text>
<rect x="173.60" y="23.50" width="76.00" height="2.30" fill="#154f88"/>
<rect x="173.60" y="25.80" width="70.20" height="2.40" fill="#c8163b"/>
<rect x="249.60" y="23.70" width="1.80" height="1.90" fill="#a9a9a9"/>
<rect x="243.80" y="26.00" width="1.60" height="2.00" fill="#a9a9a9"/>
<line x1="169.40" y1="25.90" x2="173.60" y2="25.90" stroke="#111" stroke-width="0.8"/>
<text x="168.30" y="28.30" font-size="6.15" text-anchor="end" style="stroke-width:0">34:2</text>
<text x="254.40" y="28.60" font-size="5.8" text-anchor="middle" fill="#111">*</text>
<rect x="173.60" y="29.34" width="73.10" height="2.30" fill="#154f88"/>
<rect x="173.60" y="31.64" width="58.30" height="2.40" fill="#c8163b"/>
<rect x="246.70" y="29.54" width="1.80" height="1.90" fill="#a9a9a9"/>
<rect x="231.90" y="31.84" width="1.60" height="2.00" fill="#a9a9a9"/>
<line x1="169.40" y1="31.74" x2="173.60" y2="31.74" stroke="#111" stroke-width="0.8"/>
<text x="168.30" y="34.14" font-size="6.15" text-anchor="end" style="stroke-width:0">36:3</text>
<text x="252.00" y="34.44" font-size="5.8" text-anchor="middle" fill="#111">**</text>
<rect x="173.60" y="35.18" width="71.20" height="2.30" fill="#154f88"/>
<rect x="173.60" y="37.48" width="64.10" height="2.40" fill="#c8163b"/>
<rect x="244.80" y="35.38" width="1.80" height="1.90" fill="#a9a9a9"/>
<rect x="237.70" y="37.68" width="1.60" height="2.00" fill="#a9a9a9"/>
<line x1="169.40" y1="37.58" x2="173.60" y2="37.58" stroke="#111" stroke-width="0.8"/>
<text x="168.30" y="39.98" font-size="6.15" text-anchor="end" style="stroke-width:0">36:2</text>
<text x="249.60" y="40.28" font-size="5.8" text-anchor="middle" fill="#111">**</text>
<rect x="173.60" y="41.02" width="70.20" height="2.30" fill="#154f88"/>
<rect x="173.60" y="43.32" width="62.60" height="2.40" fill="#c8163b"/>
<rect x="243.80" y="41.22" width="1.80" height="1.90" fill="#a9a9a9"/>
<rect x="236.20" y="43.52" width="1.60" height="2.00" fill="#a9a9a9"/>
<line x1="169.40" y1="43.42" x2="173.60" y2="43.42" stroke="#111" stroke-width="0.8"/>
<text x="168.30" y="45.82" font-size="6.15" text-anchor="end" style="stroke-width:0">16:1_18:1</text>
<text x="248.00" y="46.12" font-size="5.8" text-anchor="middle" fill="#111">**</text>
<rect x="173.60" y="46.86" width="64.40" height="2.30" fill="#154f88"/>
<rect x="173.60" y="49.16" width="54.90" height="2.40" fill="#c8163b"/>
<rect x="238.00" y="47.06" width="1.80" height="1.90" fill="#a9a9a9"/>
<rect x="228.50" y="49.36" width="1.60" height="2.00" fill="#a9a9a9"/>
<line x1="169.40" y1="49.26" x2="173.60" y2="49.26" stroke="#111" stroke-width="0.8"/>
<text x="168.30" y="51.66" font-size="6.15" text-anchor="end" style="stroke-width:0">36:4</text>
<text x="244.80" y="51.96" font-size="5.8" text-anchor="middle" fill="#111">**</text>
<rect x="173.60" y="52.70" width="64.40" height="2.30" fill="#154f88"/>
<rect x="173.60" y="55.00" width="57.70" height="2.40" fill="#c8163b"/>
<rect x="238.00" y="52.90" width="1.80" height="1.90" fill="#a9a9a9"/>
<rect x="231.30" y="55.20" width="1.60" height="2.00" fill="#a9a9a9"/>
<line x1="169.40" y1="55.10" x2="173.60" y2="55.10" stroke="#111" stroke-width="0.8"/>
<text x="168.30" y="57.50" font-size="6.15" text-anchor="end" style="stroke-width:0">16:0_14:0</text>
<text x="242.90" y="57.80" font-size="5.8" text-anchor="middle" fill="#111">*</text>
<rect x="173.60" y="58.54" width="64.90" height="2.30" fill="#154f88"/>
<rect x="173.60" y="60.84" width="48.10" height="2.40" fill="#c8163b"/>
<rect x="238.50" y="58.74" width="1.80" height="1.90" fill="#a9a9a9"/>
<rect x="221.70" y="61.04" width="1.60" height="2.00" fill="#a9a9a9"/>
<line x1="169.40" y1="60.94" x2="173.60" y2="60.94" stroke="#111" stroke-width="0.8"/>
<text x="168.30" y="63.34" font-size="6.15" text-anchor="end" style="stroke-width:0">18:1_18:2</text>
<text x="244.80" y="63.64" font-size="5.8" text-anchor="middle" fill="#111">**</text>
<rect x="173.60" y="64.38" width="63.40" height="2.30" fill="#154f88"/>
<rect x="173.60" y="66.68" width="56.80" height="2.40" fill="#c8163b"/>
<rect x="237.00" y="64.58" width="1.80" height="1.90" fill="#a9a9a9"/>
<rect x="230.40" y="66.88" width="1.60" height="2.00" fill="#a9a9a9"/>
<line x1="169.40" y1="66.78" x2="173.60" y2="66.78" stroke="#111" stroke-width="0.8"/>
<text x="168.30" y="69.18" font-size="6.15" text-anchor="end" style="stroke-width:0">18:1_18:1</text>
<text x="242.90" y="69.48" font-size="5.8" text-anchor="middle" fill="#111">**</text>
<rect x="173.60" y="70.22" width="64.10" height="2.30" fill="#154f88"/>
<rect x="173.60" y="72.52" width="59.70" height="2.40" fill="#c8163b"/>
<rect x="237.70" y="70.42" width="1.80" height="1.90" fill="#a9a9a9"/>
<rect x="233.30" y="72.72" width="1.60" height="2.00" fill="#a9a9a9"/>
<line x1="169.40" y1="72.62" x2="173.60" y2="72.62" stroke="#111" stroke-width="0.8"/>
<text x="168.30" y="75.02" font-size="6.15" text-anchor="end" style="stroke-width:0">34:0</text>
<text x="241.90" y="75.32" font-size="5.8" text-anchor="middle" fill="#111">**</text>
<rect x="173.60" y="76.06" width="56.40" height="2.30" fill="#154f88"/>
<rect x="173.60" y="78.36" width="45.80" height="2.40" fill="#c8163b"/>
<rect x="230.00" y="76.26" width="1.80" height="1.90" fill="#a9a9a9"/>
<rect x="219.40" y="78.56" width="1.60" height="2.00" fill="#a9a9a9"/>
<line x1="169.40" y1="78.46" x2="173.60" y2="78.46" stroke="#111" stroke-width="0.8"/>
<text x="168.30" y="80.86" font-size="6.15" text-anchor="end" style="stroke-width:0">32:2</text>
<text x="238.00" y="81.16" font-size="5.8" text-anchor="middle" fill="#111">**</text>
<rect x="173.60" y="81.90" width="55.40" height="2.30" fill="#154f88"/>
<rect x="173.60" y="84.20" width="38.10" height="2.40" fill="#c8163b"/>
<rect x="229.00" y="82.10" width="1.80" height="1.90" fill="#a9a9a9"/>
<rect x="211.70" y="84.40" width="1.60" height="2.00" fill="#a9a9a9"/>
<line x1="169.40" y1="84.30" x2="173.60" y2="84.30" stroke="#111" stroke-width="0.8"/>
<text x="168.30" y="86.70" font-size="6.15" text-anchor="end" style="stroke-width:0">18:2_18:2</text>
<text x="234.60" y="87.00" font-size="5.8" text-anchor="middle" fill="#111">**</text>
<rect x="173.60" y="87.74" width="54.90" height="2.30" fill="#154f88"/>
<rect x="173.60" y="90.04" width="47.20" height="2.40" fill="#c8163b"/>
<rect x="228.50" y="87.94" width="1.80" height="1.90" fill="#a9a9a9"/>
<rect x="220.80" y="90.24" width="1.60" height="2.00" fill="#a9a9a9"/>
<line x1="169.40" y1="90.14" x2="173.60" y2="90.14" stroke="#111" stroke-width="0.8"/>
<text x="168.30" y="92.54" font-size="6.15" text-anchor="end" style="stroke-width:0">18:2_20:4</text>
<text x="232.70" y="92.84" font-size="5.8" text-anchor="middle" fill="#111">**</text>
<rect x="173.60" y="93.58" width="54.40" height="2.30" fill="#154f88"/>
<rect x="173.60" y="95.88" width="47.40" height="2.40" fill="#c8163b"/>
<rect x="228.00" y="93.78" width="1.80" height="1.90" fill="#a9a9a9"/>
<rect x="221.00" y="96.08" width="1.60" height="2.00" fill="#a9a9a9"/>
<line x1="169.40" y1="95.98" x2="173.60" y2="95.98" stroke="#111" stroke-width="0.8"/>
<text x="168.30" y="98.38" font-size="6.15" text-anchor="end" style="stroke-width:0">20:5_18:2</text>
<text x="232.70" y="98.68" font-size="5.8" text-anchor="middle" fill="#111">**</text>
<rect x="173.60" y="99.42" width="51.40" height="2.30" fill="#154f88"/>
<rect x="173.60" y="101.72" width="61.00" height="2.40" fill="#c8163b"/>
<rect x="225.00" y="99.62" width="6.00" height="1.90" fill="#a9a9a9"/>
<rect x="234.60" y="101.92" width="1.60" height="2.00" fill="#a9a9a9"/>
<line x1="169.40" y1="101.82" x2="173.60" y2="101.82" stroke="#111" stroke-width="0.8"/>
<text x="168.30" y="104.22" font-size="6.15" text-anchor="end" style="stroke-width:0">18:1_20:3</text>
<text x="237.00" y="104.52" font-size="5.8" text-anchor="middle" fill="#111">*</text>
<rect x="173.60" y="105.26" width="50.60" height="2.30" fill="#154f88"/>
<rect x="173.60" y="107.56" width="41.00" height="2.40" fill="#c8163b"/>
<rect x="224.20" y="105.46" width="1.80" height="1.90" fill="#a9a9a9"/>
<rect x="214.60" y="107.76" width="1.60" height="2.00" fill="#a9a9a9"/>
<line x1="169.40" y1="107.66" x2="173.60" y2="107.66" stroke="#111" stroke-width="0.8"/>
<text x="168.30" y="110.06" font-size="6.15" text-anchor="end" style="stroke-width:0">16:1_16:1</text>
<text x="230.40" y="110.36" font-size="5.8" text-anchor="middle" fill="#111">**</text>
<rect x="173.60" y="111.10" width="48.40" height="2.30" fill="#154f88"/>
<rect x="173.60" y="113.40" width="42.90" height="2.40" fill="#c8163b"/>
<rect x="222.00" y="111.30" width="1.80" height="1.90" fill="#a9a9a9"/>
<rect x="216.50" y="113.60" width="1.60" height="2.00" fill="#a9a9a9"/>
<line x1="169.40" y1="113.50" x2="173.60" y2="113.50" stroke="#111" stroke-width="0.8"/>
<text x="168.30" y="115.90" font-size="6.15" text-anchor="end" style="stroke-width:0">32:3</text>
<text x="225.60" y="116.20" font-size="5.8" text-anchor="middle" fill="#111">*</text>
<rect x="173.60" y="116.94" width="47.20" height="2.30" fill="#154f88"/>
<rect x="173.60" y="119.24" width="42.90" height="2.40" fill="#c8163b"/>
<rect x="220.80" y="117.14" width="1.80" height="1.90" fill="#a9a9a9"/>
<rect x="216.50" y="119.44" width="1.60" height="2.00" fill="#a9a9a9"/>
<line x1="169.40" y1="119.34" x2="173.60" y2="119.34" stroke="#111" stroke-width="0.8"/>
<text x="168.30" y="121.74" font-size="6.15" text-anchor="end" style="stroke-width:0">38:2</text>
<text x="225.60" y="122.04" font-size="5.8" text-anchor="middle" fill="#111">*</text>
<rect x="173.60" y="122.78" width="45.60" height="2.30" fill="#154f88"/>
<rect x="173.60" y="125.08" width="40.40" height="2.40" fill="#c8163b"/>
<rect x="219.20" y="122.98" width="1.80" height="1.90" fill="#a9a9a9"/>
<rect x="214.00" y="125.28" width="1.60" height="2.00" fill="#a9a9a9"/>
<line x1="169.40" y1="125.18" x2="173.60" y2="125.18" stroke="#111" stroke-width="0.8"/>
<text x="168.30" y="127.58" font-size="6.15" text-anchor="end" style="stroke-width:0">38:7</text>
<text x="224.20" y="127.88" font-size="5.8" text-anchor="middle" fill="#111">*</text>
<rect x="173.60" y="128.62" width="45.20" height="2.30" fill="#154f88"/>
<rect x="173.60" y="130.92" width="35.60" height="2.40" fill="#c8163b"/>
<rect x="218.80" y="128.82" width="1.80" height="1.90" fill="#a9a9a9"/>
<rect x="209.20" y="131.12" width="1.60" height="2.00" fill="#a9a9a9"/>
<line x1="169.40" y1="131.02" x2="173.60" y2="131.02" stroke="#111" stroke-width="0.8"/>
<text x="168.30" y="133.42" font-size="6.15" text-anchor="end" style="stroke-width:0">33:2</text>
<text x="226.20" y="133.72" font-size="5.8" text-anchor="middle" fill="#111">*</text>
<rect x="173.60" y="134.46" width="44.70" height="2.30" fill="#154f88"/>
<rect x="173.60" y="136.76" width="38.10" height="2.40" fill="#c8163b"/>
<rect x="218.30" y="134.66" width="1.80" height="1.90" fill="#a9a9a9"/>
<rect x="211.70" y="136.96" width="1.60" height="2.00" fill="#a9a9a9"/>
<line x1="169.40" y1="136.86" x2="173.60" y2="136.86" stroke="#111" stroke-width="0.8"/>
<text x="168.30" y="139.26" font-size="6.15" text-anchor="end" style="stroke-width:0">16:1_20:5</text>
<text x="224.20" y="139.56" font-size="5.8" text-anchor="middle" fill="#111">**</text>
<rect x="173.60" y="140.30" width="43.40" height="2.30" fill="#154f88"/>
<rect x="173.60" y="142.60" width="37.20" height="2.40" fill="#c8163b"/>
<rect x="217.00" y="140.50" width="1.80" height="1.90" fill="#a9a9a9"/>
<rect x="210.80" y="142.80" width="1.60" height="2.00" fill="#a9a9a9"/>
<line x1="169.40" y1="142.70" x2="173.60" y2="142.70" stroke="#111" stroke-width="0.8"/>
<text x="168.30" y="145.10" font-size="6.15" text-anchor="end" style="stroke-width:0">18:2_14:3</text>
<text x="221.70" y="145.40" font-size="5.8" text-anchor="middle" fill="#111">*</text>
<rect x="173.60" y="146.14" width="42.90" height="2.30" fill="#154f88"/>
<rect x="173.60" y="148.44" width="33.40" height="2.40" fill="#c8163b"/>
<rect x="216.50" y="146.34" width="1.80" height="1.90" fill="#a9a9a9"/>
<rect x="207.00" y="148.64" width="1.60" height="2.00" fill="#a9a9a9"/>
<line x1="169.40" y1="148.54" x2="173.60" y2="148.54" stroke="#111" stroke-width="0.8"/>
<text x="168.30" y="150.94" font-size="6.15" text-anchor="end" style="stroke-width:0">34:5</text>
<text x="221.70" y="151.24" font-size="5.8" text-anchor="middle" fill="#111">**</text>
<rect x="173.60" y="151.98" width="42.40" height="2.30" fill="#154f88"/>
<rect x="173.60" y="154.28" width="33.70" height="2.40" fill="#c8163b"/>
<rect x="216.00" y="152.18" width="1.80" height="1.90" fill="#a9a9a9"/>
<rect x="207.30" y="154.48" width="1.60" height="2.00" fill="#a9a9a9"/>
<line x1="169.40" y1="154.38" x2="173.60" y2="154.38" stroke="#111" stroke-width="0.8"/>
<text x="168.30" y="156.78" font-size="6.15" text-anchor="end" style="stroke-width:0">36:6</text>
<text x="221.20" y="157.08" font-size="5.8" text-anchor="middle" fill="#111">*</text>
<rect x="173.60" y="157.82" width="40.40" height="2.30" fill="#154f88"/>
<rect x="173.60" y="160.12" width="29.40" height="2.40" fill="#c8163b"/>
<rect x="214.00" y="158.02" width="1.80" height="1.90" fill="#a9a9a9"/>
<rect x="203.00" y="160.32" width="1.60" height="2.00" fill="#a9a9a9"/>
<line x1="169.40" y1="160.22" x2="173.60" y2="160.22" stroke="#111" stroke-width="0.8"/>
<text x="168.30" y="162.62" font-size="6.15" text-anchor="end" style="stroke-width:0">28:0</text>
<text x="218.80" y="162.92" font-size="5.8" text-anchor="middle" fill="#111">*</text>
<rect x="173.60" y="163.66" width="36.00" height="2.30" fill="#154f88"/>
<rect x="173.60" y="165.96" width="28.40" height="2.40" fill="#c8163b"/>
<rect x="209.60" y="163.86" width="1.80" height="1.90" fill="#a9a9a9"/>
<rect x="202.00" y="166.16" width="1.60" height="2.00" fill="#a9a9a9"/>
<line x1="169.40" y1="166.06" x2="173.60" y2="166.06" stroke="#111" stroke-width="0.8"/>
<text x="168.30" y="168.46" font-size="6.15" text-anchor="end" style="stroke-width:0">14:0_18:3</text>
<text x="216.00" y="168.76" font-size="5.8" text-anchor="middle" fill="#111">**</text>
<rect x="173.60" y="169.50" width="35.60" height="2.30" fill="#154f88"/>
<rect x="173.60" y="171.80" width="21.80" height="2.40" fill="#c8163b"/>
<rect x="209.20" y="169.70" width="1.80" height="1.90" fill="#a9a9a9"/>
<rect x="195.40" y="172.00" width="1.60" height="2.00" fill="#a9a9a9"/>
<line x1="169.40" y1="171.90" x2="173.60" y2="171.90" stroke="#111" stroke-width="0.8"/>
<text x="168.30" y="174.30" font-size="6.15" text-anchor="end" style="stroke-width:0">14:0_14:0</text>
<text x="214.00" y="174.60" font-size="5.8" text-anchor="middle" fill="#111">*</text>
<rect x="173.60" y="175.34" width="33.40" height="2.30" fill="#154f88"/>
<rect x="173.60" y="177.64" width="25.60" height="2.40" fill="#c8163b"/>
<rect x="207.00" y="175.54" width="1.80" height="1.90" fill="#a9a9a9"/>
<rect x="199.20" y="177.84" width="1.60" height="2.00" fill="#a9a9a9"/>
<line x1="169.40" y1="177.74" x2="173.60" y2="177.74" stroke="#111" stroke-width="0.8"/>
<text x="168.30" y="180.14" font-size="6.15" text-anchor="end" style="stroke-width:0">29:0</text>
<text x="211.50" y="180.44" font-size="5.8" text-anchor="middle" fill="#111">*</text>
<rect x="173.60" y="181.18" width="32.00" height="2.30" fill="#154f88"/>
<rect x="173.60" y="183.48" width="23.70" height="2.40" fill="#c8163b"/>
<rect x="205.60" y="181.38" width="1.80" height="1.90" fill="#a9a9a9"/>
<rect x="197.30" y="183.68" width="1.60" height="2.00" fill="#a9a9a9"/>
<line x1="169.40" y1="183.58" x2="173.60" y2="183.58" stroke="#111" stroke-width="0.8"/>
<text x="168.30" y="185.98" font-size="6.15" text-anchor="end" style="stroke-width:0">21:1_11:3</text>
<text x="210.80" y="186.28" font-size="5.8" text-anchor="middle" fill="#111">*</text>
<rect x="173.60" y="187.02" width="31.10" height="2.30" fill="#154f88"/>
<rect x="173.60" y="189.32" width="27.00" height="2.40" fill="#c8163b"/>
<rect x="204.70" y="187.22" width="1.80" height="1.90" fill="#a9a9a9"/>
<rect x="200.60" y="189.52" width="1.60" height="2.00" fill="#a9a9a9"/>
<line x1="169.40" y1="189.42" x2="173.60" y2="189.42" stroke="#111" stroke-width="0.8"/>
<text x="168.30" y="191.82" font-size="6.15" text-anchor="end" style="stroke-width:0">44:3</text>
<text x="209.60" y="192.12" font-size="5.8" text-anchor="middle" fill="#111">*</text>
<rect x="173.60" y="192.86" width="28.90" height="2.30" fill="#154f88"/>
<rect x="173.60" y="195.16" width="25.10" height="2.40" fill="#c8163b"/>
<rect x="202.50" y="193.06" width="1.80" height="1.90" fill="#a9a9a9"/>
<rect x="198.70" y="195.36" width="1.60" height="2.00" fill="#a9a9a9"/>
<line x1="169.40" y1="195.26" x2="173.60" y2="195.26" stroke="#111" stroke-width="0.8"/>
<text x="168.30" y="197.66" font-size="6.15" text-anchor="end" style="stroke-width:0">22:5_20:4</text>
<text x="207.70" y="197.96" font-size="5.8" text-anchor="middle" fill="#111">*</text>
<rect x="173.60" y="198.70" width="27.00" height="2.30" fill="#154f88"/>
<rect x="173.60" y="201.00" width="17.40" height="2.40" fill="#c8163b"/>
<rect x="200.60" y="198.90" width="1.80" height="1.90" fill="#a9a9a9"/>
<rect x="191.00" y="201.20" width="1.60" height="2.00" fill="#a9a9a9"/>
<line x1="169.40" y1="201.10" x2="173.60" y2="201.10" stroke="#111" stroke-width="0.8"/>
<text x="168.30" y="203.50" font-size="6.15" text-anchor="end" style="stroke-width:0">14:0_20:5</text>
<text x="205.80" y="203.80" font-size="5.8" text-anchor="middle" fill="#111">*</text>
<rect x="173.60" y="204.54" width="21.20" height="2.30" fill="#154f88"/>
<rect x="173.60" y="206.84" width="2.60" height="2.40" fill="#c8163b"/>
<rect x="194.80" y="204.74" width="1.80" height="1.90" fill="#a9a9a9"/>
<rect x="176.20" y="207.04" width="1.60" height="2.00" fill="#a9a9a9"/>
<line x1="169.40" y1="206.94" x2="173.60" y2="206.94" stroke="#111" stroke-width="0.8"/>
<text x="168.30" y="209.34" font-size="6.15" text-anchor="end" style="stroke-width:0">21:4</text>
<text x="204.80" y="209.64" font-size="5.8" text-anchor="middle" fill="#111">*</text>
<line x1="173.60" y1="22.00" x2="173.60" y2="210.50" stroke="#111" stroke-width="0.9"/>
<line x1="173.20" y1="210.20" x2="255.50" y2="210.20" stroke="#111" stroke-width="0.9"/>
<line x1="173.60" y1="210.20" x2="173.60" y2="212.60" stroke="#111" stroke-width="0.8"/>
<text x="173.80" y="221.2" font-size="6.6" text-anchor="middle">10<tspan font-size="4.4" dy="-2.7">4</tspan></text>
<line x1="189.35" y1="210.20" x2="189.35" y2="212.60" stroke="#111" stroke-width="0.8"/>
<text x="189.55" y="221.2" font-size="6.6" text-anchor="middle">10<tspan font-size="4.4" dy="-2.7">5</tspan></text>
<line x1="205.10" y1="210.20" x2="205.10" y2="212.60" stroke="#111" stroke-width="0.8"/>
<text x="205.30" y="221.2" font-size="6.6" text-anchor="middle">10<tspan font-size="4.4" dy="-2.7">6</tspan></text>
<line x1="220.85" y1="210.20" x2="220.85" y2="212.60" stroke="#111" stroke-width="0.8"/>
<text x="221.05" y="221.2" font-size="6.6" text-anchor="middle">10<tspan font-size="4.4" dy="-2.7">7</tspan></text>
<line x1="236.60" y1="210.20" x2="236.60" y2="212.60" stroke="#111" stroke-width="0.8"/>
<text x="236.80" y="221.2" font-size="6.6" text-anchor="middle">10<tspan font-size="4.4" dy="-2.7">8</tspan></text>
<line x1="252.35" y1="210.20" x2="252.35" y2="212.60" stroke="#111" stroke-width="0.8"/>
<text x="252.55" y="221.2" font-size="6.6" text-anchor="middle">10<tspan font-size="4.4" dy="-2.7">9</tspan></text>
<text transform="translate(214.8,233.3) scale(0.77,1)" font-size="8.5" style="stroke-width:0.2px" text-anchor="middle">log<tspan font-size="5.6" dy="1.8">10</tspan><tspan dy="-1.8"> (peak area)</tspan></text>
<text x="206.00" y="250.20" font-size="7.8" text-anchor="middle">LPC</text>
<rect x="174.20" y="255.30" width="55.70" height="2.70" fill="#154f88"/>
<rect x="174.20" y="258.00" width="61.30" height="3.20" fill="#c8163b"/>
<line x1="229.90" y1="256.65" x2="232.10" y2="256.65" stroke="#333" stroke-width="0.55"/>
<line x1="232.10" y1="255.70" x2="232.10" y2="257.60" stroke="#333" stroke-width="0.55"/>
<line x1="235.50" y1="259.60" x2="237.00" y2="259.60" stroke="#333" stroke-width="0.55"/>
<line x1="237.00" y1="258.70" x2="237.00" y2="260.50" stroke="#333" stroke-width="0.55"/>
<line x1="170.80" y1="258.10" x2="174.20" y2="258.10" stroke="#111" stroke-width="0.9"/>
<text x="168.00" y="260.80" font-size="6.3" text-anchor="end">16:0</text>
<text x="239.90" y="259.70" font-size="6.0" text-anchor="middle" fill="#333">*</text>
<rect x="174.20" y="265.01" width="54.20" height="2.70" fill="#154f88"/>
<rect x="174.20" y="267.71" width="59.70" height="3.20" fill="#c8163b"/>
<line x1="228.40" y1="266.36" x2="230.60" y2="266.36" stroke="#333" stroke-width="0.55"/>
<line x1="230.60" y1="265.41" x2="230.60" y2="267.31" stroke="#333" stroke-width="0.55"/>
<line x1="233.90" y1="269.31" x2="235.40" y2="269.31" stroke="#333" stroke-width="0.55"/>
<line x1="235.40" y1="268.41" x2="235.40" y2="270.21" stroke="#333" stroke-width="0.55"/>
<line x1="170.80" y1="267.81" x2="174.20" y2="267.81" stroke="#111" stroke-width="0.9"/>
<text x="168.00" y="270.51" font-size="6.3" text-anchor="end">18:0</text>
<text x="236.50" y="269.41" font-size="6.0" text-anchor="middle" fill="#333">*</text>
<rect x="174.20" y="274.72" width="49.00" height="2.70" fill="#154f88"/>
<rect x="174.20" y="277.42" width="49.00" height="3.20" fill="#c8163b"/>
<line x1="223.20" y1="276.07" x2="225.40" y2="276.07" stroke="#333" stroke-width="0.55"/>
<line x1="225.40" y1="275.12" x2="225.40" y2="277.02" stroke="#333" stroke-width="0.55"/>
<line x1="223.20" y1="279.02" x2="224.70" y2="279.02" stroke="#333" stroke-width="0.55"/>
<line x1="224.70" y1="278.12" x2="224.70" y2="279.92" stroke="#333" stroke-width="0.55"/>
<line x1="170.80" y1="277.52" x2="174.20" y2="277.52" stroke="#111" stroke-width="0.9"/>
<text x="168.00" y="280.22" font-size="6.3" text-anchor="end">18:2</text>
<rect x="174.20" y="284.43" width="47.00" height="2.70" fill="#154f88"/>
<rect x="174.20" y="287.13" width="50.80" height="3.20" fill="#c8163b"/>
<line x1="221.20" y1="285.78" x2="223.40" y2="285.78" stroke="#333" stroke-width="0.55"/>
<line x1="223.40" y1="284.83" x2="223.40" y2="286.73" stroke="#333" stroke-width="0.55"/>
<line x1="225.00" y1="288.73" x2="226.50" y2="288.73" stroke="#333" stroke-width="0.55"/>
<line x1="226.50" y1="287.83" x2="226.50" y2="289.63" stroke="#333" stroke-width="0.55"/>
<line x1="170.80" y1="287.23" x2="174.20" y2="287.23" stroke="#111" stroke-width="0.9"/>
<text x="168.00" y="289.93" font-size="6.3" text-anchor="end">18:1</text>
<rect x="174.20" y="294.14" width="45.00" height="2.70" fill="#154f88"/>
<rect x="174.20" y="296.84" width="50.00" height="3.20" fill="#c8163b"/>
<line x1="219.20" y1="295.49" x2="221.40" y2="295.49" stroke="#333" stroke-width="0.55"/>
<line x1="221.40" y1="294.54" x2="221.40" y2="296.44" stroke="#333" stroke-width="0.55"/>
<line x1="224.20" y1="298.44" x2="225.70" y2="298.44" stroke="#333" stroke-width="0.55"/>
<line x1="225.70" y1="297.54" x2="225.70" y2="299.34" stroke="#333" stroke-width="0.55"/>
<line x1="170.80" y1="296.94" x2="174.20" y2="296.94" stroke="#111" stroke-width="0.9"/>
<text x="168.00" y="299.64" font-size="6.3" text-anchor="end">20:4</text>
<text x="230.40" y="298.54" font-size="6.0" text-anchor="middle" fill="#333">*</text>
<rect x="174.20" y="303.85" width="42.00" height="2.70" fill="#154f88"/>
<rect x="174.20" y="306.55" width="46.50" height="3.20" fill="#c8163b"/>
<line x1="216.20" y1="305.20" x2="218.40" y2="305.20" stroke="#333" stroke-width="0.55"/>
<line x1="218.40" y1="304.25" x2="218.40" y2="306.15" stroke="#333" stroke-width="0.55"/>
<line x1="220.70" y1="308.15" x2="222.20" y2="308.15" stroke="#333" stroke-width="0.55"/>
<line x1="222.20" y1="307.25" x2="222.20" y2="309.05" stroke="#333" stroke-width="0.55"/>
<line x1="170.80" y1="306.65" x2="174.20" y2="306.65" stroke="#111" stroke-width="0.9"/>
<text x="168.00" y="309.35" font-size="6.3" text-anchor="end">35:1</text>
<text x="225.00" y="308.25" font-size="6.0" text-anchor="middle" fill="#333">**</text>
<rect x="174.20" y="313.56" width="35.00" height="2.70" fill="#154f88"/>
<rect x="174.20" y="316.26" width="36.20" height="3.20" fill="#c8163b"/>
<line x1="209.20" y1="314.91" x2="211.40" y2="314.91" stroke="#333" stroke-width="0.55"/>
<line x1="211.40" y1="313.96" x2="211.40" y2="315.86" stroke="#333" stroke-width="0.55"/>
<line x1="210.40" y1="317.86" x2="211.90" y2="317.86" stroke="#333" stroke-width="0.55"/>
<line x1="211.90" y1="316.96" x2="211.90" y2="318.76" stroke="#333" stroke-width="0.55"/>
<line x1="170.80" y1="316.36" x2="174.20" y2="316.36" stroke="#111" stroke-width="0.9"/>
<text x="168.00" y="319.06" font-size="6.3" text-anchor="end">20:3</text>
<rect x="174.20" y="323.27" width="32.80" height="2.70" fill="#154f88"/>
<rect x="174.20" y="325.97" width="33.10" height="3.20" fill="#c8163b"/>
<line x1="207.00" y1="324.62" x2="209.20" y2="324.62" stroke="#333" stroke-width="0.55"/>
<line x1="209.20" y1="323.67" x2="209.20" y2="325.57" stroke="#333" stroke-width="0.55"/>
<line x1="207.30" y1="327.57" x2="208.80" y2="327.57" stroke="#333" stroke-width="0.55"/>
<line x1="208.80" y1="326.67" x2="208.80" y2="328.47" stroke="#333" stroke-width="0.55"/>
<line x1="170.80" y1="326.07" x2="174.20" y2="326.07" stroke="#111" stroke-width="0.9"/>
<text x="168.00" y="328.77" font-size="6.3" text-anchor="end">26:0</text>
<rect x="174.20" y="332.98" width="32.60" height="2.70" fill="#154f88"/>
<rect x="174.20" y="335.68" width="34.60" height="3.20" fill="#c8163b"/>
<line x1="206.80" y1="334.33" x2="209.00" y2="334.33" stroke="#333" stroke-width="0.55"/>
<line x1="209.00" y1="333.38" x2="209.00" y2="335.28" stroke="#333" stroke-width="0.55"/>
<line x1="208.80" y1="337.28" x2="210.30" y2="337.28" stroke="#333" stroke-width="0.55"/>
<line x1="210.30" y1="336.38" x2="210.30" y2="338.18" stroke="#333" stroke-width="0.55"/>
<line x1="170.80" y1="335.78" x2="174.20" y2="335.78" stroke="#111" stroke-width="0.9"/>
<text x="168.00" y="338.48" font-size="6.3" text-anchor="end">16:1</text>
<rect x="174.20" y="342.69" width="31.60" height="2.70" fill="#154f88"/>
<rect x="174.20" y="345.39" width="39.00" height="3.20" fill="#c8163b"/>
<line x1="205.80" y1="344.04" x2="208.00" y2="344.04" stroke="#333" stroke-width="0.55"/>
<line x1="208.00" y1="343.09" x2="208.00" y2="344.99" stroke="#333" stroke-width="0.55"/>
<line x1="213.20" y1="346.99" x2="214.70" y2="346.99" stroke="#333" stroke-width="0.55"/>
<line x1="214.70" y1="346.09" x2="214.70" y2="347.89" stroke="#333" stroke-width="0.55"/>
<line x1="170.80" y1="345.49" x2="174.20" y2="345.49" stroke="#111" stroke-width="0.9"/>
<text x="168.00" y="348.19" font-size="6.3" text-anchor="end">22:6</text>
<text x="217.30" y="347.09" font-size="6.0" text-anchor="middle" fill="#333">*</text>
<rect x="174.20" y="352.40" width="26.60" height="2.70" fill="#154f88"/>
<rect x="174.20" y="355.10" width="27.30" height="3.20" fill="#c8163b"/>
<line x1="200.80" y1="353.75" x2="203.00" y2="353.75" stroke="#333" stroke-width="0.55"/>
<line x1="203.00" y1="352.80" x2="203.00" y2="354.70" stroke="#333" stroke-width="0.55"/>
<line x1="201.50" y1="356.70" x2="203.00" y2="356.70" stroke="#333" stroke-width="0.55"/>
<line x1="203.00" y1="355.80" x2="203.00" y2="357.60" stroke="#333" stroke-width="0.55"/>
<line x1="170.80" y1="355.20" x2="174.20" y2="355.20" stroke="#111" stroke-width="0.9"/>
<text x="168.00" y="357.90" font-size="6.3" text-anchor="end">15:0</text>
<rect x="174.20" y="362.11" width="23.10" height="2.70" fill="#154f88"/>
<rect x="174.20" y="364.81" width="23.90" height="3.20" fill="#c8163b"/>
<line x1="197.30" y1="363.46" x2="199.50" y2="363.46" stroke="#333" stroke-width="0.55"/>
<line x1="199.50" y1="362.51" x2="199.50" y2="364.41" stroke="#333" stroke-width="0.55"/>
<line x1="198.10" y1="366.41" x2="199.60" y2="366.41" stroke="#333" stroke-width="0.55"/>
<line x1="199.60" y1="365.51" x2="199.60" y2="367.31" stroke="#333" stroke-width="0.55"/>
<line x1="170.80" y1="364.91" x2="174.20" y2="364.91" stroke="#111" stroke-width="0.9"/>
<text x="168.00" y="367.61" font-size="6.3" text-anchor="end">14:0</text>
<rect x="174.20" y="371.82" width="21.90" height="2.70" fill="#154f88"/>
<rect x="174.20" y="374.52" width="25.90" height="3.20" fill="#c8163b"/>
<line x1="196.10" y1="373.17" x2="198.30" y2="373.17" stroke="#333" stroke-width="0.55"/>
<line x1="198.30" y1="372.22" x2="198.30" y2="374.12" stroke="#333" stroke-width="0.55"/>
<line x1="200.10" y1="376.12" x2="201.60" y2="376.12" stroke="#333" stroke-width="0.55"/>
<line x1="201.60" y1="375.22" x2="201.60" y2="377.02" stroke="#333" stroke-width="0.55"/>
<line x1="170.80" y1="374.62" x2="174.20" y2="374.62" stroke="#111" stroke-width="0.9"/>
<text x="168.00" y="377.32" font-size="6.3" text-anchor="end">18:3</text>
<rect x="174.20" y="381.53" width="20.00" height="2.70" fill="#154f88"/>
<rect x="174.20" y="384.23" width="22.00" height="3.20" fill="#c8163b"/>
<line x1="194.20" y1="382.88" x2="196.40" y2="382.88" stroke="#333" stroke-width="0.55"/>
<line x1="196.40" y1="381.93" x2="196.40" y2="383.83" stroke="#333" stroke-width="0.55"/>
<line x1="196.20" y1="385.83" x2="197.70" y2="385.83" stroke="#333" stroke-width="0.55"/>
<line x1="197.70" y1="384.93" x2="197.70" y2="386.73" stroke="#333" stroke-width="0.55"/>
<line x1="170.80" y1="384.33" x2="174.20" y2="384.33" stroke="#111" stroke-width="0.9"/>
<text x="168.00" y="387.03" font-size="6.3" text-anchor="end">17:0</text>
<rect x="174.20" y="391.24" width="18.50" height="2.70" fill="#154f88"/>
<rect x="174.20" y="393.94" width="28.20" height="3.20" fill="#c8163b"/>
<line x1="192.70" y1="392.59" x2="194.90" y2="392.59" stroke="#333" stroke-width="0.55"/>
<line x1="194.90" y1="391.64" x2="194.90" y2="393.54" stroke="#333" stroke-width="0.55"/>
<line x1="202.40" y1="395.54" x2="203.90" y2="395.54" stroke="#333" stroke-width="0.55"/>
<line x1="203.90" y1="394.64" x2="203.90" y2="396.44" stroke="#333" stroke-width="0.55"/>
<line x1="170.80" y1="394.04" x2="174.20" y2="394.04" stroke="#111" stroke-width="0.9"/>
<text x="168.00" y="396.74" font-size="6.3" text-anchor="end">24:0</text>
<text x="205.80" y="395.64" font-size="6.0" text-anchor="middle" fill="#333">*</text>
<rect x="174.20" y="400.95" width="10.30" height="2.70" fill="#154f88"/>
<rect x="174.20" y="403.65" width="18.00" height="3.20" fill="#c8163b"/>
<line x1="184.50" y1="402.30" x2="186.70" y2="402.30" stroke="#333" stroke-width="0.55"/>
<line x1="186.70" y1="401.35" x2="186.70" y2="403.25" stroke="#333" stroke-width="0.55"/>
<line x1="192.20" y1="405.25" x2="193.70" y2="405.25" stroke="#333" stroke-width="0.55"/>
<line x1="193.70" y1="404.35" x2="193.70" y2="406.15" stroke="#333" stroke-width="0.55"/>
<line x1="170.80" y1="403.75" x2="174.20" y2="403.75" stroke="#111" stroke-width="0.9"/>
<text x="168.00" y="406.45" font-size="6.3" text-anchor="end">20:0</text>
<text x="198.50" y="405.35" font-size="6.0" text-anchor="middle" fill="#333">**</text>
<line x1="174.20" y1="253.80" x2="174.20" y2="408.50" stroke="#111" stroke-width="0.9"/>
<line x1="173.80" y1="408.10" x2="238.00" y2="408.10" stroke="#111" stroke-width="0.9"/>
<line x1="174.20" y1="408.10" x2="174.20" y2="410.60" stroke="#111" stroke-width="0.8"/>
<text x="174.40" y="419.2" font-size="6.6" text-anchor="middle">10<tspan font-size="4.4" dy="-2.7">4</tspan></text>
<line x1="191.90" y1="408.10" x2="191.90" y2="410.60" stroke="#111" stroke-width="0.8"/>
<text x="192.10" y="419.2" font-size="6.6" text-anchor="middle">10<tspan font-size="4.4" dy="-2.7">5</tspan></text>
<line x1="209.60" y1="408.10" x2="209.60" y2="410.60" stroke="#111" stroke-width="0.8"/>
<text x="209.80" y="419.2" font-size="6.6" text-anchor="middle">10<tspan font-size="4.4" dy="-2.7">6</tspan></text>
<line x1="227.30" y1="408.10" x2="227.30" y2="410.60" stroke="#111" stroke-width="0.8"/>
<text x="227.50" y="419.2" font-size="6.6" text-anchor="middle">10<tspan font-size="4.4" dy="-2.7">7</tspan></text>
<text transform="translate(206.3,428.8) scale(0.77,1)" font-size="8.5" style="stroke-width:0.2px" text-anchor="middle">log<tspan font-size="5.6" dy="1.8">10</tspan><tspan dy="-1.8"> (peak area)</tspan></text>
<circle cx="226.0" cy="378.1" r="1.95" fill="#154f88"/><circle cx="226.0" cy="386.8" r="1.95" fill="#c8163b"/>
<text x="230.60" y="380.70" font-size="7.25">E10.5</text>
<text x="230.60" y="389.40" font-size="7.25">E12.5</text>
<text x="266.50" y="14.30" font-size="11" font-weight="bold" fill="#000">B</text>
<text x="327.60" y="53.60" font-size="7.7" text-anchor="middle" font-weight="bold" fill="#111">FASN</text>
<line x1="307.20" y1="56.60" x2="307.20" y2="120.40" stroke="#111" stroke-width="0.9"/>
<line x1="306.80" y1="120.00" x2="347.00" y2="120.00" stroke="#111" stroke-width="0.9"/>
<line x1="304.40" y1="60.62" x2="307.20" y2="60.62" stroke="#111" stroke-width="0.8"/>
<text x="302.20" y="63.52" font-size="7.6" text-anchor="end">0.6</text>
<line x1="304.40" y1="80.28" x2="307.20" y2="80.28" stroke="#111" stroke-width="0.8"/>
<text x="302.20" y="83.18" font-size="7.6" text-anchor="end">0.4</text>
<line x1="304.40" y1="99.94" x2="307.20" y2="99.94" stroke="#111" stroke-width="0.8"/>
<text x="302.20" y="102.84" font-size="7.6" text-anchor="end">0.2</text>
<line x1="304.40" y1="119.60" x2="307.20" y2="119.60" stroke="#111" stroke-width="0.8"/>
<text x="302.20" y="122.50" font-size="7.6" text-anchor="end">0.0</text>
<text transform="translate(271.20,88.20) rotate(-90)" x="0" y="0" font-size="8.6" text-anchor="middle" textLength="54.50" lengthAdjust="spacingAndGlyphs" dy="3.01" style="stroke-width:0.2px">Relative abundance</text>
<text transform="translate(283.40,88.20) rotate(-90)" x="0" y="0" font-size="8.6" text-anchor="middle" textLength="23.40" lengthAdjust="spacingAndGlyphs" dy="3.01" style="stroke-width:0.2px">(emPAI)</text>
<line x1="318.6" y1="65" x2="318.6" y2="101.8" stroke="#1f5a94" stroke-width="0.9"/>
<rect x="312.6" y="74.8" width="12" height="20" fill="#93b3d3" stroke="#1f5a94" stroke-width="0.9"/>
<line x1="312.6" y1="83.8" x2="324.6" y2="83.8" stroke="#1f5a94" stroke-width="0.9"/>
<path d="M316.50,64.90 L318.40,63.00 L320.30,64.90 L318.40,66.80 Z" fill="#1f5a94"/>
<path d="M313.70,83.50 L315.60,81.60 L317.50,83.50 L315.60,85.40 Z" fill="#1f5a94"/>
<path d="M319.90,83.10 L321.80,81.20 L323.70,83.10 L321.80,85.00 Z" fill="#1f5a94"/>
<path d="M316.70,87.40 L318.60,85.50 L320.50,87.40 L318.60,89.30 Z" fill="#1f5a94"/>
<path d="M316.70,101.80 L318.60,99.90 L320.50,101.80 L318.60,103.70 Z" fill="#1f5a94"/>
<text x="327.60" y="66.20" font-size="7.0" text-anchor="middle" fill="#111">**</text>
<rect x="330.6" y="112.3" width="10.6" height="6.8" rx="2.2" fill="#ee8fa4" stroke="#c8163b" stroke-width="1.0"/>
<line x1="330.6" y1="115.7" x2="341.2" y2="115.7" stroke="#c8163b" stroke-width="0.8"/>
<path d="M331.50,112.40 L333.00,110.90 L334.50,112.40 L333.00,113.90 Z" fill="#c8163b"/>
<path d="M337.30,112.40 L338.80,110.90 L340.30,112.40 L338.80,113.90 Z" fill="#c8163b"/>
<path d="M331.80,118.90 L333.30,117.40 L334.80,118.90 L333.30,120.40 Z" fill="#c8163b"/>
<path d="M337.00,118.90 L338.50,117.40 L340.00,118.90 L338.50,120.40 Z" fill="#c8163b"/>
<path d="M334.40,115.80 L335.90,114.30 L337.40,115.80 L335.90,117.30 Z" fill="#c8163b"/>
<text x="429.20" y="32.80" font-size="7.7" text-anchor="middle" font-weight="bold" fill="#111">Lands cycle for membrane repair</text>
<defs>
<radialGradient id="rbc" cx="0.45" cy="0.45" r="0.56">
<stop offset="0" stop-color="#fcefef"/><stop offset="0.35" stop-color="#f9dfe1"/><stop offset="0.7" stop-color="#f6cdd0"/><stop offset="0.9" stop-color="#f7d3d5"/><stop offset="1" stop-color="#fdf3f4"/>
</radialGradient>
<filter id="blur1" x="-20%" y="-50%" width="140%" height="200%"><feGaussianBlur stdDeviation="3"/></filter>
<radialGradient id="ball" cx="0.38" cy="0.35" r="0.65"><stop offset="0" stop-color="#f25050"/><stop offset="0.45" stop-color="#c4080f"/><stop offset="1" stop-color="#4a0005"/></radialGradient>
<marker id="ah" viewBox="0 0 10 10" refX="8" refY="5" markerWidth="5.4" markerHeight="5.4" orient="auto-start-reverse" markerUnits="userSpaceOnUse"><path d="M0,0 L10,5 L0,10 z" fill="#111"/></marker>
</defs>
<filter id="blur2" x="-10%" y="-10%" width="120%" height="120%"><feGaussianBlur stdDeviation="1.2"/></filter>
<ellipse cx="419" cy="88" rx="70.5" ry="44" fill="url(#rbc)" filter="url(#blur2)" transform="rotate(-4 419 88)"/>
<ellipse cx="414" cy="86" rx="34" ry="7" fill="#ffffff" opacity="0.85" filter="url(#blur1)" transform="rotate(-18 412 86)"/>
<text x="400.50" y="54.00" font-size="7.35">Pantothenate</text>
<text x="372.20" y="71.20" font-size="7.5">Acyl-CoA</text>
<text x="356.60" y="88.40" font-size="7.4">FA</text>
<text x="371.80" y="103.30" font-size="7.35">Acylcarnitine</text>
<text x="409.10" y="126.40" font-size="7.5">Carnitine</text>
<text x="440.10" y="91.60" font-size="7.2">ROS</text>
<text x="476.3" y="89.2" font-size="7.3" fill="#222">PLA<tspan font-size="5" dy="1.8">2</tspan></text>
<text x="456.00" y="49.60" font-size="7.3">Lysophospholipid</text>
<text x="456.70" y="124.70" font-size="7.45">Phospholipid</text>
<path d="M361.8,81.5 Q362.5,72 370.6,68.2" fill="none" stroke="#111" stroke-width="1.35" marker-end="url(#ah)"/>
<path d="M361.8,89.2 Q362.5,96 368.6,99.6" fill="none" stroke="#111" stroke-width="1.35" marker-end="url(#ah)"/>
<path d="M397.4,76 L397.4,92" fill="none" stroke="#111" stroke-width="1.3" marker-end="url(#ah)" marker-start="url(#ah)"/>
<path d="M419.8,54.8 Q417,64.5 404,68.2" fill="none" stroke="#111" stroke-width="1.35" marker-end="url(#ah)"/>
<path d="M400.4,82.6 C418,81.5 433,90 442.6,111" fill="none" stroke="#111" stroke-width="1.35" marker-end="url(#ah)"/>
<path d="M444.5,60.2 C426,66 424,98 442.8,111.2" fill="none" stroke="#111" stroke-width="1.15"/>
<path d="M459.8,111 C478,101 477,68 456.5,59.8" fill="none" stroke="#111" stroke-width="1.35" marker-end="url(#ah)"/>
<path d="M405.2,123.7 Q391,119 386.8,105.8" fill="none" stroke="#111" stroke-width="1.35" marker-end="url(#ah)"/>
<line x1="450.7" y1="48" x2="450.7" y2="60" stroke="#9a7a72" stroke-width="0.8"/>
<circle cx="451.4" cy="45.7" r="3.3" fill="url(#ball)"/>
<path d="M451,106 L451,117 M455.5,107.5 L453.8,110 L453.8,117" fill="none" stroke="#9a7a72" stroke-width="0.8"/>
<circle cx="452" cy="119.8" r="3.3" fill="url(#ball)"/>
<polygon points="446,94 451.5,94.5 449.5,98.5 454.6,105.6 447.6,100.5 449.2,98.8" fill="#f2cf2e" stroke="#c9a21a" stroke-width="0.4"/>
<text x="266.50" y="155.90" font-size="11" font-weight="bold" fill="#000">C</text>
<line x1="316.50" y1="174.50" x2="316.50" y2="172.00" stroke="#222" stroke-width="0.8"/>
<line x1="314.30" y1="172.00" x2="318.70" y2="172.00" stroke="#222" stroke-width="0.8"/>
<rect x="312.00" y="174.50" width="9.00" height="34.30" fill="#154f88"/>
<line x1="330.55" y1="177.90" x2="330.55" y2="175.20" stroke="#222" stroke-width="0.8"/>
<line x1="328.35" y1="175.20" x2="332.75" y2="175.20" stroke="#222" stroke-width="0.8"/>
<rect x="326.10" y="177.90" width="8.90" height="30.90" fill="#c8163b"/>
<line x1="307.50" y1="156.30" x2="307.50" y2="209.20" stroke="#111" stroke-width="0.9"/>
<line x1="307.10" y1="208.80" x2="336.30" y2="208.80" stroke="#111" stroke-width="0.9"/>
<line x1="304.70" y1="160.24" x2="307.50" y2="160.24" stroke="#111" stroke-width="0.8"/>
<text x="302.60" y="163.34" font-size="7.9" text-anchor="end">8</text>
<line x1="304.70" y1="172.38" x2="307.50" y2="172.38" stroke="#111" stroke-width="0.8"/>
<text x="302.60" y="175.48" font-size="7.9" text-anchor="end">6</text>
<line x1="304.70" y1="184.52" x2="307.50" y2="184.52" stroke="#111" stroke-width="0.8"/>
<text x="302.60" y="187.62" font-size="7.9" text-anchor="end">4</text>
<line x1="304.70" y1="196.66" x2="307.50" y2="196.66" stroke="#111" stroke-width="0.8"/>
<text x="302.60" y="199.76" font-size="7.9" text-anchor="end">2</text>
<line x1="304.70" y1="208.80" x2="307.50" y2="208.80" stroke="#111" stroke-width="0.8"/>
<text x="302.60" y="211.90" font-size="7.9" text-anchor="end">0</text>
<text x="323.30" y="153.20" font-size="7.2" text-anchor="middle" font-style="italic">Scd1</text>
<text x="323.80" y="169.00" font-size="7.0" text-anchor="middle">*</text>
<text transform="translate(288.20,181.70) rotate(-90)" x="0" y="0" font-size="8.6" text-anchor="middle" textLength="62.30" lengthAdjust="spacingAndGlyphs" dy="3.01" style="stroke-width:0.2px">Normalized expression</text>
<line x1="405.05" y1="171.90" x2="405.05" y2="168.20" stroke="#222" stroke-width="0.8"/>
<line x1="402.85" y1="168.20" x2="407.25" y2="168.20" stroke="#222" stroke-width="0.8"/>
<rect x="400.60" y="171.90" width="8.90" height="37.00" fill="#154f88"/>
<line x1="418.60" y1="177.70" x2="418.60" y2="173.00" stroke="#222" stroke-width="0.8"/>
<line x1="416.40" y1="173.00" x2="420.80" y2="173.00" stroke="#222" stroke-width="0.8"/>
<rect x="413.80" y="177.70" width="9.60" height="31.20" fill="#c8163b"/>
<line x1="396.00" y1="156.60" x2="396.00" y2="209.30" stroke="#111" stroke-width="0.9"/>
<line x1="395.60" y1="208.90" x2="425.40" y2="208.90" stroke="#111" stroke-width="0.9"/>
<line x1="393.20" y1="170.20" x2="396.00" y2="170.20" stroke="#111" stroke-width="0.8"/>
<text x="391.20" y="173.30" font-size="7.9" text-anchor="end">10</text>
<line x1="393.20" y1="189.80" x2="396.00" y2="189.80" stroke="#111" stroke-width="0.8"/>
<text x="391.20" y="192.90" font-size="7.9" text-anchor="end">8</text>
<line x1="393.20" y1="209.10" x2="396.00" y2="209.10" stroke="#111" stroke-width="0.8"/>
<text x="391.20" y="212.20" font-size="7.9" text-anchor="end">6</text>
<text x="413.00" y="153.20" font-size="7.2" text-anchor="middle" font-style="italic">Scd2</text>
<text x="412.00" y="166.60" font-size="7.0" text-anchor="middle">*</text>
<text transform="translate(374.30,182.60) rotate(-90)" x="0" y="0" font-size="8.6" text-anchor="middle" textLength="63.40" lengthAdjust="spacingAndGlyphs" dy="3.01" style="stroke-width:0.2px">Normalized expression</text>
<line x1="489.25" y1="168.20" x2="489.25" y2="164.70" stroke="#222" stroke-width="0.8"/>
<line x1="487.05" y1="164.70" x2="491.45" y2="164.70" stroke="#222" stroke-width="0.8"/>
<rect x="484.50" y="168.20" width="9.50" height="40.70" fill="#154f88"/>
<line x1="503.70" y1="169.00" x2="503.70" y2="163.80" stroke="#222" stroke-width="0.8"/>
<line x1="501.50" y1="163.80" x2="505.90" y2="163.80" stroke="#222" stroke-width="0.8"/>
<rect x="499.00" y="169.00" width="9.40" height="39.90" fill="#c8163b"/>
<line x1="479.00" y1="156.60" x2="479.00" y2="209.30" stroke="#111" stroke-width="0.9"/>
<line x1="478.60" y1="208.90" x2="512.80" y2="208.90" stroke="#111" stroke-width="0.9"/>
<line x1="476.20" y1="160.40" x2="479.00" y2="160.40" stroke="#111" stroke-width="0.8"/>
<text x="474.80" y="163.50" font-size="7.9" text-anchor="end">3</text>
<line x1="476.20" y1="176.20" x2="479.00" y2="176.20" stroke="#111" stroke-width="0.8"/>
<text x="474.80" y="179.30" font-size="7.9" text-anchor="end">2</text>
<line x1="476.20" y1="192.70" x2="479.00" y2="192.70" stroke="#111" stroke-width="0.8"/>
<text x="474.80" y="195.80" font-size="7.9" text-anchor="end">1</text>
<line x1="476.20" y1="209.10" x2="479.00" y2="209.10" stroke="#111" stroke-width="0.8"/>
<text x="474.80" y="212.20" font-size="7.9" text-anchor="end">0</text>
<text x="496.80" y="153.20" font-size="7.2" text-anchor="middle" font-style="italic">Scd3</text>
<text transform="translate(462.90,182.60) rotate(-90)" x="0" y="0" font-size="8.6" text-anchor="middle" textLength="63.40" lengthAdjust="spacingAndGlyphs" dy="3.01" style="stroke-width:0.2px">Normalized expression</text>
<text x="266.50" y="233.40" font-size="11" font-weight="bold" fill="#000">D</text>
<line x1="310.75" y1="245.30" x2="310.75" y2="242.70" stroke="#444" stroke-width="0.8"/>
<line x1="309.45" y1="242.70" x2="312.05" y2="242.70" stroke="#444" stroke-width="0.8"/>
<line x1="313.85" y1="246.90" x2="313.85" y2="245.30" stroke="#444" stroke-width="0.8"/>
<line x1="312.55" y1="245.30" x2="315.15" y2="245.30" stroke="#444" stroke-width="0.8"/>
<rect x="309.20" y="245.30" width="3.10" height="55.90" fill="#154f88"/>
<rect x="312.30" y="246.90" width="3.10" height="54.30" fill="#c8163b"/>
<text x="312.30" y="313.00" font-size="7.3" text-anchor="middle">0</text>
<line x1="312.30" y1="301.20" x2="312.30" y2="304.00" stroke="#111" stroke-width="0.8"/>
<line x1="320.68" y1="243.00" x2="320.68" y2="240.40" stroke="#444" stroke-width="0.8"/>
<line x1="319.38" y1="240.40" x2="321.98" y2="240.40" stroke="#444" stroke-width="0.8"/>
<line x1="323.78" y1="245.00" x2="323.78" y2="243.40" stroke="#444" stroke-width="0.8"/>
<line x1="322.48" y1="243.40" x2="325.08" y2="243.40" stroke="#444" stroke-width="0.8"/>
<rect x="319.13" y="243.00" width="3.10" height="58.20" fill="#154f88"/>
<rect x="322.23" y="245.00" width="3.10" height="56.20" fill="#c8163b"/>
<text x="322.23" y="313.00" font-size="7.3" text-anchor="middle">1</text>
<line x1="322.23" y1="301.20" x2="322.23" y2="304.00" stroke="#111" stroke-width="0.8"/>
<line x1="330.61" y1="245.00" x2="330.61" y2="242.40" stroke="#444" stroke-width="0.8"/>
<line x1="329.31" y1="242.40" x2="331.91" y2="242.40" stroke="#444" stroke-width="0.8"/>
<line x1="333.71" y1="249.20" x2="333.71" y2="247.60" stroke="#444" stroke-width="0.8"/>
<line x1="332.41" y1="247.60" x2="335.01" y2="247.60" stroke="#444" stroke-width="0.8"/>
<rect x="329.06" y="245.00" width="3.10" height="56.20" fill="#154f88"/>
<rect x="332.16" y="249.20" width="3.10" height="52.00" fill="#c8163b"/>
<text x="332.16" y="313.00" font-size="7.3" text-anchor="middle">2</text>
<line x1="332.16" y1="301.20" x2="332.16" y2="304.00" stroke="#111" stroke-width="0.8"/>
<line x1="340.54" y1="246.90" x2="340.54" y2="244.30" stroke="#444" stroke-width="0.8"/>
<line x1="339.24" y1="244.30" x2="341.84" y2="244.30" stroke="#444" stroke-width="0.8"/>
<line x1="343.64" y1="250.80" x2="343.64" y2="249.20" stroke="#444" stroke-width="0.8"/>
<line x1="342.34" y1="249.20" x2="344.94" y2="249.20" stroke="#444" stroke-width="0.8"/>
<rect x="338.99" y="246.90" width="3.10" height="54.30" fill="#154f88"/>
<rect x="342.09" y="250.80" width="3.10" height="50.40" fill="#c8163b"/>
<text x="342.09" y="313.00" font-size="7.3" text-anchor="middle">3</text>
<line x1="342.09" y1="301.20" x2="342.09" y2="304.00" stroke="#111" stroke-width="0.8"/>
<line x1="350.47" y1="245.00" x2="350.47" y2="242.40" stroke="#444" stroke-width="0.8"/>
<line x1="349.17" y1="242.40" x2="351.77" y2="242.40" stroke="#444" stroke-width="0.8"/>
<line x1="353.57" y1="245.80" x2="353.57" y2="244.20" stroke="#444" stroke-width="0.8"/>
<line x1="352.27" y1="244.20" x2="354.87" y2="244.20" stroke="#444" stroke-width="0.8"/>
<rect x="348.92" y="245.00" width="3.10" height="56.20" fill="#154f88"/>
<rect x="352.02" y="245.80" width="3.10" height="55.40" fill="#c8163b"/>
<text x="352.02" y="313.00" font-size="7.3" text-anchor="middle">4</text>
<line x1="352.02" y1="301.20" x2="352.02" y2="304.00" stroke="#111" stroke-width="0.8"/>
<line x1="360.40" y1="248.80" x2="360.40" y2="246.20" stroke="#444" stroke-width="0.8"/>
<line x1="359.10" y1="246.20" x2="361.70" y2="246.20" stroke="#444" stroke-width="0.8"/>
<line x1="363.50" y1="252.00" x2="363.50" y2="250.40" stroke="#444" stroke-width="0.8"/>
<line x1="362.20" y1="250.40" x2="364.80" y2="250.40" stroke="#444" stroke-width="0.8"/>
<rect x="358.85" y="248.80" width="3.10" height="52.40" fill="#154f88"/>
<rect x="361.95" y="252.00" width="3.10" height="49.20" fill="#c8163b"/>
<text x="361.95" y="313.00" font-size="7.3" text-anchor="middle">5</text>
<line x1="361.95" y1="301.20" x2="361.95" y2="304.00" stroke="#111" stroke-width="0.8"/>
<line x1="370.33" y1="252.00" x2="370.33" y2="249.40" stroke="#444" stroke-width="0.8"/>
<line x1="369.03" y1="249.40" x2="371.63" y2="249.40" stroke="#444" stroke-width="0.8"/>
<line x1="373.43" y1="253.20" x2="373.43" y2="251.60" stroke="#444" stroke-width="0.8"/>
<line x1="372.13" y1="251.60" x2="374.73" y2="251.60" stroke="#444" stroke-width="0.8"/>
<rect x="368.78" y="252.00" width="3.10" height="49.20" fill="#154f88"/>
<rect x="371.88" y="253.20" width="3.10" height="48.00" fill="#c8163b"/>
<text x="371.88" y="313.00" font-size="7.3" text-anchor="middle">6</text>
<line x1="371.88" y1="301.20" x2="371.88" y2="304.00" stroke="#111" stroke-width="0.8"/>
<line x1="380.26" y1="254.30" x2="380.26" y2="251.70" stroke="#444" stroke-width="0.8"/>
<line x1="378.96" y1="251.70" x2="381.56" y2="251.70" stroke="#444" stroke-width="0.8"/>
<line x1="383.36" y1="255.00" x2="383.36" y2="253.40" stroke="#444" stroke-width="0.8"/>
<line x1="382.06" y1="253.40" x2="384.66" y2="253.40" stroke="#444" stroke-width="0.8"/>
<rect x="378.71" y="254.30" width="3.10" height="46.90" fill="#154f88"/>
<rect x="381.81" y="255.00" width="3.10" height="46.20" fill="#c8163b"/>
<text x="381.81" y="313.00" font-size="7.3" text-anchor="middle">7</text>
<line x1="381.81" y1="301.20" x2="381.81" y2="304.00" stroke="#111" stroke-width="0.8"/>
<line x1="390.19" y1="263.00" x2="390.19" y2="260.40" stroke="#444" stroke-width="0.8"/>
<line x1="388.89" y1="260.40" x2="391.49" y2="260.40" stroke="#444" stroke-width="0.8"/>
<line x1="393.29" y1="265.80" x2="393.29" y2="264.20" stroke="#444" stroke-width="0.8"/>
<line x1="391.99" y1="264.20" x2="394.59" y2="264.20" stroke="#444" stroke-width="0.8"/>
<rect x="388.64" y="263.00" width="3.10" height="38.20" fill="#154f88"/>
<rect x="391.74" y="265.80" width="3.10" height="35.40" fill="#c8163b"/>
<text x="391.74" y="313.00" font-size="7.3" text-anchor="middle">8</text>
<line x1="391.74" y1="301.20" x2="391.74" y2="304.00" stroke="#111" stroke-width="0.8"/>
<line x1="400.12" y1="259.00" x2="400.12" y2="256.40" stroke="#444" stroke-width="0.8"/>
<line x1="398.82" y1="256.40" x2="401.42" y2="256.40" stroke="#444" stroke-width="0.8"/>
<line x1="403.22" y1="260.80" x2="403.22" y2="259.20" stroke="#444" stroke-width="0.8"/>
<line x1="401.92" y1="259.20" x2="404.52" y2="259.20" stroke="#444" stroke-width="0.8"/>
<rect x="398.57" y="259.00" width="3.10" height="42.20" fill="#154f88"/>
<rect x="401.67" y="260.80" width="3.10" height="40.40" fill="#c8163b"/>
<text x="401.67" y="313.00" font-size="7.3" text-anchor="middle">9</text>
<line x1="401.67" y1="301.20" x2="401.67" y2="304.00" stroke="#111" stroke-width="0.8"/>
<line x1="410.05" y1="272.80" x2="410.05" y2="270.20" stroke="#444" stroke-width="0.8"/>
<line x1="408.75" y1="270.20" x2="411.35" y2="270.20" stroke="#444" stroke-width="0.8"/>
<line x1="413.15" y1="274.20" x2="413.15" y2="272.60" stroke="#444" stroke-width="0.8"/>
<line x1="411.85" y1="272.60" x2="414.45" y2="272.60" stroke="#444" stroke-width="0.8"/>
<rect x="408.50" y="272.80" width="3.10" height="28.40" fill="#154f88"/>
<rect x="411.60" y="274.20" width="3.10" height="27.00" fill="#c8163b"/>
<text x="411.60" y="313.00" font-size="7.3" text-anchor="middle">10</text>
<line x1="411.60" y1="301.20" x2="411.60" y2="304.00" stroke="#111" stroke-width="0.8"/>
<line x1="419.98" y1="267.70" x2="419.98" y2="265.10" stroke="#444" stroke-width="0.8"/>
<line x1="418.68" y1="265.10" x2="421.28" y2="265.10" stroke="#444" stroke-width="0.8"/>
<line x1="423.08" y1="268.80" x2="423.08" y2="267.20" stroke="#444" stroke-width="0.8"/>
<line x1="421.78" y1="267.20" x2="424.38" y2="267.20" stroke="#444" stroke-width="0.8"/>
<rect x="418.43" y="267.70" width="3.10" height="33.50" fill="#154f88"/>
<rect x="421.53" y="268.80" width="3.10" height="32.40" fill="#c8163b"/>
<text x="421.53" y="313.00" font-size="7.3" text-anchor="middle">11</text>
<line x1="421.53" y1="301.20" x2="421.53" y2="304.00" stroke="#111" stroke-width="0.8"/>
<line x1="429.91" y1="283.20" x2="429.91" y2="280.60" stroke="#444" stroke-width="0.8"/>
<line x1="428.61" y1="280.60" x2="431.21" y2="280.60" stroke="#444" stroke-width="0.8"/>
<line x1="433.01" y1="279.20" x2="433.01" y2="277.60" stroke="#444" stroke-width="0.8"/>
<line x1="431.71" y1="277.60" x2="434.31" y2="277.60" stroke="#444" stroke-width="0.8"/>
<rect x="428.36" y="283.20" width="3.10" height="18.00" fill="#154f88"/>
<rect x="431.46" y="279.20" width="3.10" height="22.00" fill="#c8163b"/>
<text x="431.46" y="313.00" font-size="7.3" text-anchor="middle">12</text>
<line x1="431.46" y1="301.20" x2="431.46" y2="304.00" stroke="#111" stroke-width="0.8"/>
<line x1="439.84" y1="267.00" x2="439.84" y2="264.40" stroke="#444" stroke-width="0.8"/>
<line x1="438.54" y1="264.40" x2="441.14" y2="264.40" stroke="#444" stroke-width="0.8"/>
<line x1="442.94" y1="263.80" x2="442.94" y2="262.20" stroke="#444" stroke-width="0.8"/>
<line x1="441.64" y1="262.20" x2="444.24" y2="262.20" stroke="#444" stroke-width="0.8"/>
<rect x="438.29" y="267.00" width="3.10" height="34.20" fill="#154f88"/>
<rect x="441.39" y="263.80" width="3.10" height="37.40" fill="#c8163b"/>
<text x="441.39" y="313.00" font-size="7.3" text-anchor="middle">13</text>
<line x1="441.39" y1="301.20" x2="441.39" y2="304.00" stroke="#111" stroke-width="0.8"/>
<line x1="449.77" y1="294.70" x2="449.77" y2="292.10" stroke="#444" stroke-width="0.8"/>
<line x1="448.47" y1="292.10" x2="451.07" y2="292.10" stroke="#444" stroke-width="0.8"/>
<line x1="452.87" y1="288.90" x2="452.87" y2="287.30" stroke="#444" stroke-width="0.8"/>
<line x1="451.57" y1="287.30" x2="454.17" y2="287.30" stroke="#444" stroke-width="0.8"/>
<rect x="448.22" y="294.70" width="3.10" height="6.50" fill="#154f88"/>
<rect x="451.32" y="288.90" width="3.10" height="12.30" fill="#c8163b"/>
<text x="451.32" y="313.00" font-size="7.3" text-anchor="middle">14</text>
<line x1="451.32" y1="301.20" x2="451.32" y2="304.00" stroke="#111" stroke-width="0.8"/>
<line x1="459.70" y1="279.20" x2="459.70" y2="276.60" stroke="#444" stroke-width="0.8"/>
<line x1="458.40" y1="276.60" x2="461.00" y2="276.60" stroke="#444" stroke-width="0.8"/>
<line x1="462.80" y1="279.70" x2="462.80" y2="278.10" stroke="#444" stroke-width="0.8"/>
<line x1="461.50" y1="278.10" x2="464.10" y2="278.10" stroke="#444" stroke-width="0.8"/>
<rect x="458.15" y="279.20" width="3.10" height="22.00" fill="#154f88"/>
<rect x="461.25" y="279.70" width="3.10" height="21.50" fill="#c8163b"/>
<text x="461.25" y="313.00" font-size="7.3" text-anchor="middle">15</text>
<line x1="461.25" y1="301.20" x2="461.25" y2="304.00" stroke="#111" stroke-width="0.8"/>
<line x1="469.63" y1="290.10" x2="469.63" y2="287.50" stroke="#444" stroke-width="0.8"/>
<line x1="468.33" y1="287.50" x2="470.93" y2="287.50" stroke="#444" stroke-width="0.8"/>
<line x1="472.73" y1="292.60" x2="472.73" y2="291.00" stroke="#444" stroke-width="0.8"/>
<line x1="471.43" y1="291.00" x2="474.03" y2="291.00" stroke="#444" stroke-width="0.8"/>
<rect x="468.08" y="290.10" width="3.10" height="11.10" fill="#154f88"/>
<rect x="471.18" y="292.60" width="3.10" height="8.60" fill="#c8163b"/>
<text x="471.18" y="313.00" font-size="7.3" text-anchor="middle">16</text>
<line x1="471.18" y1="301.20" x2="471.18" y2="304.00" stroke="#111" stroke-width="0.8"/>
<line x1="479.56" y1="287.30" x2="479.56" y2="284.70" stroke="#444" stroke-width="0.8"/>
<line x1="478.26" y1="284.70" x2="480.86" y2="284.70" stroke="#444" stroke-width="0.8"/>
<line x1="482.66" y1="287.30" x2="482.66" y2="285.70" stroke="#444" stroke-width="0.8"/>
<line x1="481.36" y1="285.70" x2="483.96" y2="285.70" stroke="#444" stroke-width="0.8"/>
<rect x="478.01" y="287.30" width="3.10" height="13.90" fill="#154f88"/>
<rect x="481.11" y="287.30" width="3.10" height="13.90" fill="#c8163b"/>
<text x="481.11" y="313.00" font-size="7.3" text-anchor="middle">17</text>
<line x1="481.11" y1="301.20" x2="481.11" y2="304.00" stroke="#111" stroke-width="0.8"/>
<line x1="489.49" y1="285.50" x2="489.49" y2="282.90" stroke="#444" stroke-width="0.8"/>
<line x1="488.19" y1="282.90" x2="490.79" y2="282.90" stroke="#444" stroke-width="0.8"/>
<line x1="492.59" y1="285.50" x2="492.59" y2="283.90" stroke="#444" stroke-width="0.8"/>
<line x1="491.29" y1="283.90" x2="493.89" y2="283.90" stroke="#444" stroke-width="0.8"/>
<rect x="487.94" y="285.50" width="3.10" height="15.70" fill="#154f88"/>
<rect x="491.04" y="285.50" width="3.10" height="15.70" fill="#c8163b"/>
<text x="491.04" y="313.00" font-size="7.3" text-anchor="middle">18</text>
<line x1="491.04" y1="301.20" x2="491.04" y2="304.00" stroke="#111" stroke-width="0.8"/>
<line x1="307.70" y1="234.50" x2="307.70" y2="301.60" stroke="#111" stroke-width="0.9"/>
<line x1="307.30" y1="301.20" x2="496.50" y2="301.20" stroke="#111" stroke-width="0.9"/>
<line x1="304.90" y1="301.40" x2="307.70" y2="301.40" stroke="#111" stroke-width="0.8"/>
<text x="302.0" y="304.40" font-size="8.0" text-anchor="end">10<tspan font-size="5.2" dy="-3.2">5</tspan></text>
<line x1="304.90" y1="288.90" x2="307.70" y2="288.90" stroke="#111" stroke-width="0.8"/>
<text x="302.0" y="291.90" font-size="8.0" text-anchor="end">10<tspan font-size="5.2" dy="-3.2">6</tspan></text>
<line x1="304.90" y1="276.40" x2="307.70" y2="276.40" stroke="#111" stroke-width="0.8"/>
<text x="302.0" y="279.40" font-size="8.0" text-anchor="end">10<tspan font-size="5.2" dy="-3.2">7</tspan></text>
<line x1="304.90" y1="263.90" x2="307.70" y2="263.90" stroke="#111" stroke-width="0.8"/>
<text x="302.0" y="266.90" font-size="8.0" text-anchor="end">10<tspan font-size="5.2" dy="-3.2">8</tspan></text>
<line x1="304.90" y1="251.40" x2="307.70" y2="251.40" stroke="#111" stroke-width="0.8"/>
<text x="302.0" y="254.40" font-size="8.0" text-anchor="end">10<tspan font-size="5.2" dy="-3.2">9</tspan></text>
<line x1="304.90" y1="238.90" x2="307.70" y2="238.90" stroke="#111" stroke-width="0.8"/>
<text x="302.0" y="241.90" font-size="8.0" text-anchor="end">10<tspan font-size="5.2" dy="-3.2">10</tspan></text>
<text transform="translate(280.7,268.4) rotate(-90) scale(0.755,1)" style="stroke-width:0.2px" font-size="8.4" text-anchor="middle">log<tspan font-size="5.5" dy="1.7">10</tspan><tspan dy="-1.7"> (peak area sum)</tspan></text>
<text x="401.6" y="325.8" font-size="8.5" text-anchor="middle" textLength="97" lengthAdjust="spacingAndGlyphs" style="stroke-width:0.2px">Lipid degree of unsaturation (sum)</text>
<text x="266.50" y="336.60" font-size="11" font-weight="bold" fill="#000">E</text>
<text x="359.80" y="344.20" font-size="8.6" text-anchor="middle" fill="#111">E10.5</text>
<text x="397.50" y="344.20" font-size="8.6" text-anchor="middle" fill="#111">E12.5</text>
<rect x="342.30" y="347.20" width="7.26" height="6.60" fill="#1d4f80"/>
<rect x="349.56" y="347.20" width="7.26" height="6.60" fill="#1d4f80"/>
<rect x="356.82" y="347.20" width="7.26" height="6.60" fill="#1d4f80"/>
<rect x="364.08" y="347.20" width="7.26" height="6.60" fill="#1d4f80"/>
<rect x="371.34" y="347.20" width="7.26" height="6.60" fill="#1d4f80"/>
<rect x="378.60" y="347.20" width="7.26" height="6.60" fill="#b5173d"/>
<rect x="385.86" y="347.20" width="7.26" height="6.60" fill="#b5173d"/>
<rect x="393.12" y="347.20" width="7.26" height="6.60" fill="#b5173d"/>
<rect x="400.38" y="347.20" width="7.26" height="6.60" fill="#b5173d"/>
<rect x="407.64" y="347.20" width="7.26" height="6.60" fill="#b5173d"/>
<line x1="349.56" y1="347.20" x2="349.56" y2="353.80" stroke="#6a7f95" stroke-width="0.35"/>
<line x1="356.82" y1="347.20" x2="356.82" y2="353.80" stroke="#6a7f95" stroke-width="0.35"/>
<line x1="364.08" y1="347.20" x2="364.08" y2="353.80" stroke="#6a7f95" stroke-width="0.35"/>
<line x1="371.34" y1="347.20" x2="371.34" y2="353.80" stroke="#6a7f95" stroke-width="0.35"/>
<line x1="378.60" y1="347.20" x2="378.60" y2="353.80" stroke="#c85a72" stroke-width="0.35"/>
<line x1="385.86" y1="347.20" x2="385.86" y2="353.80" stroke="#c85a72" stroke-width="0.35"/>
<line x1="393.12" y1="347.20" x2="393.12" y2="353.80" stroke="#c85a72" stroke-width="0.35"/>
<line x1="400.38" y1="347.20" x2="400.38" y2="353.80" stroke="#c85a72" stroke-width="0.35"/>
<line x1="407.64" y1="347.20" x2="407.64" y2="353.80" stroke="#c85a72" stroke-width="0.35"/>
<rect x="342.30" y="355.90" width="7.76" height="7.75" fill="#ff6e6e"/>
<rect x="349.56" y="355.90" width="7.76" height="7.75" fill="#ff6e6e"/>
<rect x="356.82" y="355.90" width="7.76" height="7.75" fill="#ffaaaa"/>
<rect x="364.08" y="355.90" width="7.76" height="7.75" fill="#ff0000"/>
<rect x="371.34" y="355.90" width="7.76" height="7.75" fill="#ff7d7d"/>
<rect x="378.60" y="355.90" width="7.76" height="7.75" fill="#aab4fa"/>
<rect x="385.86" y="355.90" width="7.76" height="7.75" fill="#0000fa"/>
<rect x="393.12" y="355.90" width="7.76" height="7.75" fill="#afb9fa"/>
<rect x="400.38" y="355.90" width="7.76" height="7.75" fill="#ff8c8c"/>
<rect x="407.64" y="355.90" width="7.26" height="7.75" fill="#0000fa"/>
<text x="419.00" y="360.83" font-size="6.9" fill="#151515">a-linolenic acid</text>
<rect x="342.30" y="363.15" width="7.76" height="7.75" fill="#ff0000"/>
<rect x="349.56" y="363.15" width="7.76" height="7.75" fill="#505afa"/>
<rect x="356.82" y="363.15" width="7.76" height="7.75" fill="#555ffa"/>
<rect x="364.08" y="363.15" width="7.76" height="7.75" fill="#5f69fa"/>
<rect x="371.34" y="363.15" width="7.76" height="7.75" fill="#555ffa"/>
<rect x="378.60" y="363.15" width="7.76" height="7.75" fill="#0000fa"/>
<rect x="385.86" y="363.15" width="7.76" height="7.75" fill="#0000fa"/>
<rect x="393.12" y="363.15" width="7.76" height="7.75" fill="#2832fa"/>
<rect x="400.38" y="363.15" width="7.76" height="7.75" fill="#2832fa"/>
<rect x="407.64" y="363.15" width="7.26" height="7.75" fill="#323cfa"/>
<text x="419.00" y="368.08" font-size="6.9" fill="#151515">Adrenic acid</text>
<rect x="342.30" y="370.41" width="7.76" height="7.75" fill="#ff0000"/>
<rect x="349.56" y="370.41" width="7.76" height="7.75" fill="#fff5f5"/>
<rect x="356.82" y="370.41" width="7.76" height="7.75" fill="#fff0f0"/>
<rect x="364.08" y="370.41" width="7.76" height="7.75" fill="#ffe1e1"/>
<rect x="371.34" y="370.41" width="7.76" height="7.75" fill="#ffe1e1"/>
<rect x="378.60" y="370.41" width="7.76" height="7.75" fill="#0000fa"/>
<rect x="385.86" y="370.41" width="7.76" height="7.75" fill="#0000fa"/>
<rect x="393.12" y="370.41" width="7.76" height="7.75" fill="#2832fa"/>
<rect x="400.38" y="370.41" width="7.76" height="7.75" fill="#2832fa"/>
<rect x="407.64" y="370.41" width="7.26" height="7.75" fill="#323cfa"/>
<text x="419.00" y="375.33" font-size="6.9" fill="#151515">Dihomo-g-linolenic acid</text>
<rect x="342.30" y="377.66" width="7.76" height="7.75" fill="#0000fa"/>
<rect x="349.56" y="377.66" width="7.76" height="7.75" fill="#ff0000"/>
<rect x="356.82" y="377.66" width="7.76" height="7.75" fill="#ffebeb"/>
<rect x="364.08" y="377.66" width="7.76" height="7.75" fill="#919bfa"/>
<rect x="371.34" y="377.66" width="7.76" height="7.75" fill="#b9c3fa"/>
<rect x="378.60" y="377.66" width="7.76" height="7.75" fill="#323cfa"/>
<rect x="385.86" y="377.66" width="7.76" height="7.75" fill="#323cfa"/>
<rect x="393.12" y="377.66" width="7.76" height="7.75" fill="#2832fa"/>
<rect x="400.38" y="377.66" width="7.76" height="7.75" fill="#505afa"/>
<rect x="407.64" y="377.66" width="7.26" height="7.75" fill="#323cfa"/>
<text x="419.00" y="382.59" font-size="6.9" fill="#151515">Hexadecanoic acid</text>
<rect x="342.30" y="384.92" width="7.76" height="7.75" fill="#0000fa"/>
<rect x="349.56" y="384.92" width="7.76" height="7.75" fill="#ff0000"/>
<rect x="356.82" y="384.92" width="7.76" height="7.75" fill="#dce6fa"/>
<rect x="364.08" y="384.92" width="7.76" height="7.75" fill="#6e78fa"/>
<rect x="371.34" y="384.92" width="7.76" height="7.75" fill="#a5affa"/>
<rect x="378.60" y="384.92" width="7.76" height="7.75" fill="#1e28fa"/>
<rect x="385.86" y="384.92" width="7.76" height="7.75" fill="#1e28fa"/>
<rect x="393.12" y="384.92" width="7.76" height="7.75" fill="#0a14fa"/>
<rect x="400.38" y="384.92" width="7.76" height="7.75" fill="#323cfa"/>
<rect x="407.64" y="384.92" width="7.26" height="7.75" fill="#141efa"/>
<text x="419.00" y="389.84" font-size="6.9" fill="#151515">Octadecanoic acid</text>
<rect x="342.30" y="392.17" width="7.76" height="7.75" fill="#3c46fa"/>
<rect x="349.56" y="392.17" width="7.76" height="7.75" fill="#ff5a5a"/>
<rect x="356.82" y="392.17" width="7.76" height="7.75" fill="#ff2828"/>
<rect x="364.08" y="392.17" width="7.76" height="7.75" fill="#ff1e1e"/>
<rect x="371.34" y="392.17" width="7.76" height="7.75" fill="#ff0a0a"/>
<rect x="378.60" y="392.17" width="7.76" height="7.75" fill="#0000fa"/>
<rect x="385.86" y="392.17" width="7.76" height="7.75" fill="#0000fa"/>
<rect x="393.12" y="392.17" width="7.76" height="7.75" fill="#3c46fa"/>
<rect x="400.38" y="392.17" width="7.76" height="7.75" fill="#3c46fa"/>
<rect x="407.64" y="392.17" width="7.26" height="7.75" fill="#3c46fa"/>
<text x="419.00" y="397.10" font-size="6.9" fill="#151515">Eicosapentaenoic acid</text>
<rect x="342.30" y="399.42" width="7.76" height="7.75" fill="#3c46fa"/>
<rect x="349.56" y="399.42" width="7.76" height="7.75" fill="#ff5a5a"/>
<rect x="356.82" y="399.42" width="7.76" height="7.75" fill="#ff2828"/>
<rect x="364.08" y="399.42" width="7.76" height="7.75" fill="#ff1e1e"/>
<rect x="371.34" y="399.42" width="7.76" height="7.75" fill="#ff0a0a"/>
<rect x="378.60" y="399.42" width="7.76" height="7.75" fill="#0000fa"/>
<rect x="385.86" y="399.42" width="7.76" height="7.75" fill="#0000fa"/>
<rect x="393.12" y="399.42" width="7.76" height="7.75" fill="#3c46fa"/>
<rect x="400.38" y="399.42" width="7.76" height="7.75" fill="#3c46fa"/>
<rect x="407.64" y="399.42" width="7.26" height="7.75" fill="#3c46fa"/>
<text x="419.00" y="404.35" font-size="6.9" fill="#151515">Icosapentaenoic acid</text>
<rect x="342.30" y="406.68" width="7.76" height="7.75" fill="#0000fa"/>
<rect x="349.56" y="406.68" width="7.76" height="7.75" fill="#ff5a5a"/>
<rect x="356.82" y="406.68" width="7.76" height="7.75" fill="#ff0000"/>
<rect x="364.08" y="406.68" width="7.76" height="7.75" fill="#ff1e1e"/>
<rect x="371.34" y="406.68" width="7.76" height="7.75" fill="#ff1414"/>
<rect x="378.60" y="406.68" width="7.76" height="7.75" fill="#0000fa"/>
<rect x="385.86" y="406.68" width="7.76" height="7.75" fill="#0000fa"/>
<rect x="393.12" y="406.68" width="7.76" height="7.75" fill="#5a64fa"/>
<rect x="400.38" y="406.68" width="7.76" height="7.75" fill="#646efa"/>
<rect x="407.64" y="406.68" width="7.26" height="7.75" fill="#5a64fa"/>
<text x="419.00" y="411.61" font-size="6.9" fill="#151515">Docosapentaenoic acid</text>
<rect x="342.30" y="413.93" width="7.76" height="7.75" fill="#0000fa"/>
<rect x="349.56" y="413.93" width="7.76" height="7.75" fill="#ff5a5a"/>
<rect x="356.82" y="413.93" width="7.76" height="7.75" fill="#ff0000"/>
<rect x="364.08" y="413.93" width="7.76" height="7.75" fill="#ff1e1e"/>
<rect x="371.34" y="413.93" width="7.76" height="7.75" fill="#ff1414"/>
<rect x="378.60" y="413.93" width="7.76" height="7.75" fill="#0000fa"/>
<rect x="385.86" y="413.93" width="7.76" height="7.75" fill="#0000fa"/>
<rect x="393.12" y="413.93" width="7.76" height="7.75" fill="#5a64fa"/>
<rect x="400.38" y="413.93" width="7.76" height="7.75" fill="#646efa"/>
<rect x="407.64" y="413.93" width="7.26" height="7.75" fill="#5a64fa"/>
<text x="419.00" y="418.86" font-size="6.9" fill="#151515">Docosapentaenoic acid</text>
<rect x="342.30" y="421.19" width="7.76" height="7.75" fill="#2832fa"/>
<rect x="349.56" y="421.19" width="7.76" height="7.75" fill="#ff0000"/>
<rect x="356.82" y="421.19" width="7.76" height="7.75" fill="#ff3232"/>
<rect x="364.08" y="421.19" width="7.76" height="7.75" fill="#ff0000"/>
<rect x="371.34" y="421.19" width="7.76" height="7.75" fill="#ff1e1e"/>
<rect x="378.60" y="421.19" width="7.76" height="7.75" fill="#141efa"/>
<rect x="385.86" y="421.19" width="7.76" height="7.75" fill="#0000fa"/>
<rect x="393.12" y="421.19" width="7.76" height="7.75" fill="#d2dcfa"/>
<rect x="400.38" y="421.19" width="7.76" height="7.75" fill="#b4befa"/>
<rect x="407.64" y="421.19" width="7.26" height="7.75" fill="#96a0fa"/>
<text x="419.00" y="426.11" font-size="6.9" fill="#151515">Arachidonic acid</text>
<rect x="342.30" y="428.44" width="7.76" height="7.75" fill="#0000fa"/>
<rect x="349.56" y="428.44" width="7.76" height="7.75" fill="#ff8c8c"/>
<rect x="356.82" y="428.44" width="7.76" height="7.75" fill="#ff0000"/>
<rect x="364.08" y="428.44" width="7.76" height="7.75" fill="#ff4646"/>
<rect x="371.34" y="428.44" width="7.76" height="7.75" fill="#ff9696"/>
<rect x="378.60" y="428.44" width="7.76" height="7.75" fill="#323cfa"/>
<rect x="385.86" y="428.44" width="7.76" height="7.75" fill="#1e28fa"/>
<rect x="393.12" y="428.44" width="7.76" height="7.75" fill="#6e78fa"/>
<rect x="400.38" y="428.44" width="7.76" height="7.75" fill="#7882fa"/>
<rect x="407.64" y="428.44" width="7.26" height="7.75" fill="#bec8fa"/>
<text x="419.00" y="433.37" font-size="6.9" fill="#151515">Hexadecenoic acid</text>
<rect x="342.30" y="435.69" width="7.76" height="7.75" fill="#0000fa"/>
<rect x="349.56" y="435.69" width="7.76" height="7.75" fill="#ff3c3c"/>
<rect x="356.82" y="435.69" width="7.76" height="7.75" fill="#ff0000"/>
<rect x="364.08" y="435.69" width="7.76" height="7.75" fill="#ff5050"/>
<rect x="371.34" y="435.69" width="7.76" height="7.75" fill="#ff1e1e"/>
<rect x="378.60" y="435.69" width="7.76" height="7.75" fill="#141efa"/>
<rect x="385.86" y="435.69" width="7.76" height="7.75" fill="#1e28fa"/>
<rect x="393.12" y="435.69" width="7.76" height="7.75" fill="#6e78fa"/>
<rect x="400.38" y="435.69" width="7.76" height="7.75" fill="#6e78fa"/>
<rect x="407.64" y="435.69" width="7.26" height="7.75" fill="#96a0fa"/>
<text x="419.00" y="440.62" font-size="6.9" fill="#151515">Linoleate</text>
<rect x="342.30" y="442.95" width="7.76" height="7.75" fill="#0000fa"/>
<rect x="349.56" y="442.95" width="7.76" height="7.75" fill="#ff3c3c"/>
<rect x="356.82" y="442.95" width="7.76" height="7.75" fill="#ff0000"/>
<rect x="364.08" y="442.95" width="7.76" height="7.75" fill="#ff5050"/>
<rect x="371.34" y="442.95" width="7.76" height="7.75" fill="#ff1e1e"/>
<rect x="378.60" y="442.95" width="7.76" height="7.75" fill="#141efa"/>
<rect x="385.86" y="442.95" width="7.76" height="7.75" fill="#1e28fa"/>
<rect x="393.12" y="442.95" width="7.76" height="7.75" fill="#6e78fa"/>
<rect x="400.38" y="442.95" width="7.76" height="7.75" fill="#6e78fa"/>
<rect x="407.64" y="442.95" width="7.26" height="7.75" fill="#96a0fa"/>
<text x="419.00" y="447.88" font-size="6.9" fill="#151515">Linoleic acid</text>
<rect x="342.30" y="450.20" width="7.76" height="7.75" fill="#0000fa"/>
<rect x="349.56" y="450.20" width="7.76" height="7.75" fill="#ff0000"/>
<rect x="356.82" y="450.20" width="7.76" height="7.75" fill="#ffafaf"/>
<rect x="364.08" y="450.20" width="7.76" height="7.75" fill="#ffafaf"/>
<rect x="371.34" y="450.20" width="7.76" height="7.75" fill="#ff5a5a"/>
<rect x="378.60" y="450.20" width="7.76" height="7.75" fill="#2832fa"/>
<rect x="385.86" y="450.20" width="7.76" height="7.75" fill="#1e28fa"/>
<rect x="393.12" y="450.20" width="7.76" height="7.75" fill="#646efa"/>
<rect x="400.38" y="450.20" width="7.76" height="7.75" fill="#5a64fa"/>
<rect x="407.64" y="450.20" width="7.26" height="7.75" fill="#aab4fa"/>
<text x="419.00" y="455.13" font-size="6.9" fill="#151515">Octadecenoic acid</text>
<rect x="342.30" y="457.46" width="7.76" height="7.75" fill="#0000fa"/>
<rect x="349.56" y="457.46" width="7.76" height="7.75" fill="#ff0000"/>
<rect x="356.82" y="457.46" width="7.76" height="7.75" fill="#ff1e1e"/>
<rect x="364.08" y="457.46" width="7.76" height="7.75" fill="#ffffff"/>
<rect x="371.34" y="457.46" width="7.76" height="7.75" fill="#ffdada"/>
<rect x="378.60" y="457.46" width="7.76" height="7.75" fill="#646efa"/>
<rect x="385.86" y="457.46" width="7.76" height="7.75" fill="#2832fa"/>
<rect x="393.12" y="457.46" width="7.76" height="7.75" fill="#2832fa"/>
<rect x="400.38" y="457.46" width="7.76" height="7.75" fill="#646efa"/>
<rect x="407.64" y="457.46" width="7.26" height="7.75" fill="#b4befa"/>
<text x="419.00" y="462.38" font-size="6.9" fill="#151515">Tetradecanoic acid</text>
<rect x="342.30" y="464.71" width="7.76" height="7.75" fill="#0000fa"/>
<rect x="349.56" y="464.71" width="7.76" height="7.75" fill="#ff8282"/>
<rect x="356.82" y="464.71" width="7.76" height="7.75" fill="#ff2828"/>
<rect x="364.08" y="464.71" width="7.76" height="7.75" fill="#a0aafa"/>
<rect x="371.34" y="464.71" width="7.76" height="7.75" fill="#ff0000"/>
<rect x="378.60" y="464.71" width="7.76" height="7.75" fill="#646efa"/>
<rect x="385.86" y="464.71" width="7.76" height="7.75" fill="#0000fa"/>
<rect x="393.12" y="464.71" width="7.76" height="7.75" fill="#2832fa"/>
<rect x="400.38" y="464.71" width="7.76" height="7.75" fill="#4650fa"/>
<rect x="407.64" y="464.71" width="7.26" height="7.75" fill="#2832fa"/>
<text x="419.00" y="469.64" font-size="6.9" fill="#151515">12(13)-DiHOME</text>
<rect x="342.30" y="471.96" width="7.76" height="7.75" fill="#0000fa"/>
<rect x="349.56" y="471.96" width="7.76" height="7.75" fill="#828cfa"/>
<rect x="356.82" y="471.96" width="7.76" height="7.75" fill="#afb9fa"/>
<rect x="364.08" y="471.96" width="7.76" height="7.75" fill="#e6f0fa"/>
<rect x="371.34" y="471.96" width="7.76" height="7.75" fill="#ff0000"/>
<rect x="378.60" y="471.96" width="7.76" height="7.75" fill="#2832fa"/>
<rect x="385.86" y="471.96" width="7.76" height="7.75" fill="#2832fa"/>
<rect x="393.12" y="471.96" width="7.76" height="7.75" fill="#3c46fa"/>
<rect x="400.38" y="471.96" width="7.76" height="7.75" fill="#3c46fa"/>
<rect x="407.64" y="471.96" width="7.26" height="7.75" fill="#323cfa"/>
<text x="419.00" y="476.89" font-size="6.9" fill="#151515">Prostaglandin A2</text>
<rect x="342.30" y="479.22" width="7.76" height="7.75" fill="#b4befa"/>
<rect x="349.56" y="479.22" width="7.76" height="7.75" fill="#0000fa"/>
<rect x="356.82" y="479.22" width="7.76" height="7.75" fill="#7882fa"/>
<rect x="364.08" y="479.22" width="7.76" height="7.75" fill="#bec8fa"/>
<rect x="371.34" y="479.22" width="7.76" height="7.75" fill="#ff8282"/>
<rect x="378.60" y="479.22" width="7.76" height="7.75" fill="#c8d2fa"/>
<rect x="385.86" y="479.22" width="7.76" height="7.75" fill="#505afa"/>
<rect x="393.12" y="479.22" width="7.76" height="7.75" fill="#ff0000"/>
<rect x="400.38" y="479.22" width="7.76" height="7.75" fill="#ff8282"/>
<rect x="407.64" y="479.22" width="7.26" height="7.75" fill="#ffffff"/>
<text x="419.00" y="484.14" font-size="6.9" fill="#151515">9(S)-HODE</text>
<rect x="342.30" y="486.47" width="7.76" height="7.75" fill="#0000fa"/>
<rect x="349.56" y="486.47" width="7.76" height="7.75" fill="#646efa"/>
<rect x="356.82" y="486.47" width="7.76" height="7.75" fill="#fff0f0"/>
<rect x="364.08" y="486.47" width="7.76" height="7.75" fill="#ffa0a0"/>
<rect x="371.34" y="486.47" width="7.76" height="7.75" fill="#ff8282"/>
<rect x="378.60" y="486.47" width="7.76" height="7.75" fill="#ffd2d2"/>
<rect x="385.86" y="486.47" width="7.76" height="7.75" fill="#5a64fa"/>
<rect x="393.12" y="486.47" width="7.76" height="7.75" fill="#ff0000"/>
<rect x="400.38" y="486.47" width="7.76" height="7.75" fill="#ffb4b4"/>
<rect x="407.64" y="486.47" width="7.26" height="7.75" fill="#ffc8c8"/>
<text x="419.00" y="491.40" font-size="6.9" fill="#151515">13(S)-HODE</text>
<rect x="342.30" y="493.73" width="7.76" height="7.75" fill="#0000fa"/>
<rect x="349.56" y="493.73" width="7.76" height="7.75" fill="#ff9696"/>
<rect x="356.82" y="493.73" width="7.76" height="7.75" fill="#ffbebe"/>
<rect x="364.08" y="493.73" width="7.76" height="7.75" fill="#ff0000"/>
<rect x="371.34" y="493.73" width="7.76" height="7.75" fill="#ff1e1e"/>
<rect x="378.60" y="493.73" width="7.76" height="7.75" fill="#ff9191"/>
<rect x="385.86" y="493.73" width="7.76" height="7.75" fill="#fffafa"/>
<rect x="393.12" y="493.73" width="7.76" height="7.75" fill="#ff3232"/>
<rect x="400.38" y="493.73" width="7.76" height="7.75" fill="#ff3c3c"/>
<rect x="407.64" y="493.73" width="7.26" height="7.75" fill="#ff7373"/>
<text x="419.00" y="498.65" font-size="6.9" fill="#151515">18-HEPE</text>
<rect x="342.30" y="500.98" width="7.76" height="7.75" fill="#0000fa"/>
<rect x="349.56" y="500.98" width="7.76" height="7.75" fill="#ff6464"/>
<rect x="356.82" y="500.98" width="7.76" height="7.75" fill="#ff4646"/>
<rect x="364.08" y="500.98" width="7.76" height="7.75" fill="#ff3c3c"/>
<rect x="371.34" y="500.98" width="7.76" height="7.75" fill="#ff4646"/>
<rect x="378.60" y="500.98" width="7.76" height="7.75" fill="#ffc8c8"/>
<rect x="385.86" y="500.98" width="7.76" height="7.75" fill="#ff8282"/>
<rect x="393.12" y="500.98" width="7.76" height="7.75" fill="#ff1414"/>
<rect x="400.38" y="500.98" width="7.76" height="7.75" fill="#ff0000"/>
<rect x="407.64" y="500.98" width="7.26" height="7.75" fill="#ff0000"/>
<text x="419.00" y="505.91" font-size="6.9" fill="#151515">Docosahexaenoic acid</text>
<rect x="342.30" y="508.23" width="7.76" height="7.75" fill="#0000fa"/>
<rect x="349.56" y="508.23" width="7.76" height="7.75" fill="#7882fa"/>
<rect x="356.82" y="508.23" width="7.76" height="7.75" fill="#96a0fa"/>
<rect x="364.08" y="508.23" width="7.76" height="7.75" fill="#828cfa"/>
<rect x="371.34" y="508.23" width="7.76" height="7.75" fill="#a0aafa"/>
<rect x="378.60" y="508.23" width="7.76" height="7.75" fill="#ff8282"/>
<rect x="385.86" y="508.23" width="7.76" height="7.75" fill="#ffa0a0"/>
<rect x="393.12" y="508.23" width="7.76" height="7.75" fill="#ff0000"/>
<rect x="400.38" y="508.23" width="7.76" height="7.75" fill="#ff1414"/>
<rect x="407.64" y="508.23" width="7.26" height="7.75" fill="#ff6464"/>
<text x="419.00" y="513.16" font-size="6.9" fill="#151515">Dihydro-keto-prostaglandin</text>
<rect x="342.30" y="515.49" width="7.76" height="7.75" fill="#0000fa"/>
<rect x="349.56" y="515.49" width="7.76" height="7.75" fill="#323cfa"/>
<rect x="356.82" y="515.49" width="7.76" height="7.75" fill="#4650fa"/>
<rect x="364.08" y="515.49" width="7.76" height="7.75" fill="#2832fa"/>
<rect x="371.34" y="515.49" width="7.76" height="7.75" fill="#3c46fa"/>
<rect x="378.60" y="515.49" width="7.76" height="7.75" fill="#ff1414"/>
<rect x="385.86" y="515.49" width="7.76" height="7.75" fill="#ffaaaa"/>
<rect x="393.12" y="515.49" width="7.76" height="7.75" fill="#ff0000"/>
<rect x="400.38" y="515.49" width="7.76" height="7.75" fill="#ff8282"/>
<rect x="407.64" y="515.49" width="7.26" height="7.75" fill="#ffffff"/>
<text x="419.00" y="520.41" font-size="6.9" fill="#151515">14-HDoHE</text>
<rect x="342.30" y="522.74" width="7.76" height="7.75" fill="#0000fa"/>
<rect x="349.56" y="522.74" width="7.76" height="7.75" fill="#2832fa"/>
<rect x="356.82" y="522.74" width="7.76" height="7.75" fill="#505afa"/>
<rect x="364.08" y="522.74" width="7.76" height="7.75" fill="#0000fa"/>
<rect x="371.34" y="522.74" width="7.76" height="7.75" fill="#0000fa"/>
<rect x="378.60" y="522.74" width="7.76" height="7.75" fill="#ffd2d2"/>
<rect x="385.86" y="522.74" width="7.76" height="7.75" fill="#ffaaaa"/>
<rect x="393.12" y="522.74" width="7.76" height="7.75" fill="#ff0000"/>
<rect x="400.38" y="522.74" width="7.76" height="7.75" fill="#ff1e1e"/>
<rect x="407.64" y="522.74" width="7.26" height="7.75" fill="#ff7878"/>
<text x="419.00" y="527.67" font-size="6.9" fill="#151515">LPA_20:4</text>
<rect x="342.30" y="530.00" width="7.76" height="7.75" fill="#0000fa"/>
<rect x="349.56" y="530.00" width="7.76" height="7.75" fill="#aab4fa"/>
<rect x="356.82" y="530.00" width="7.76" height="7.75" fill="#ffffff"/>
<rect x="364.08" y="530.00" width="7.76" height="7.75" fill="#ebf5fa"/>
<rect x="371.34" y="530.00" width="7.76" height="7.75" fill="#828cfa"/>
<rect x="378.60" y="530.00" width="7.76" height="7.75" fill="#ffaaaa"/>
<rect x="385.86" y="530.00" width="7.76" height="7.75" fill="#ff6e6e"/>
<rect x="393.12" y="530.00" width="7.76" height="7.75" fill="#ff6e6e"/>
<rect x="400.38" y="530.00" width="7.76" height="7.75" fill="#ff0000"/>
<rect x="407.64" y="530.00" width="7.26" height="7.75" fill="#ff3c3c"/>
<text x="419.00" y="534.92" font-size="6.9" fill="#151515">Leukotriene B4</text>
<rect x="342.30" y="537.25" width="7.76" height="7.25" fill="#7882fa"/>
<rect x="349.56" y="537.25" width="7.76" height="7.25" fill="#0000fa"/>
<rect x="356.82" y="537.25" width="7.76" height="7.25" fill="#0000fa"/>
<rect x="364.08" y="537.25" width="7.76" height="7.25" fill="#1e28fa"/>
<rect x="371.34" y="537.25" width="7.76" height="7.25" fill="#0000fa"/>
<rect x="378.60" y="537.25" width="7.76" height="7.25" fill="#bec8fa"/>
<rect x="385.86" y="537.25" width="7.76" height="7.25" fill="#ffc8c8"/>
<rect x="393.12" y="537.25" width="7.76" height="7.25" fill="#b4befa"/>
<rect x="400.38" y="537.25" width="7.76" height="7.25" fill="#505afa"/>
<rect x="407.64" y="537.25" width="7.26" height="7.25" fill="#ff0000"/>
<text x="419.00" y="542.18" font-size="6.9" fill="#151515">Taurochenodeoxycholic acid</text>
<path d="M287.3,417.5 L287.3,511.5 M287.3,417.5 L315.2,417.5 M287.3,511.5 L309.1,511.5 M315.2,366.7 L315.2,428.5 M315.2,366.7 L327.5,366.7 M315.2,428.5 L326.1,428.5 M327.5,359.5 L327.5,370.4 M327.5,359.5 L339.2,359.5 M327.5,370.4 L338.6,370.4 M338.6,366.7 L338.6,373.9 M338.6,366.7 L339.2,366.7 M338.6,373.9 L339.2,373.9 M326.1,382.3 L326.1,435.4 M326.1,382.3 L335.2,382.3 M326.1,435.4 L329.2,435.4 M335.2,381.2 L335.2,388.4 M335.2,381.2 L339.2,381.2 M335.2,388.4 L339.2,388.4 M329.2,410.4 L329.2,453.8 M329.2,410.4 L331.9,410.4 M329.2,453.8 L331.5,453.8 M331.9,406.7 L331.9,424.5 M331.9,406.7 L334.2,406.7 M331.9,424.5 L339.2,424.5 M334.2,399.4 L334.2,413.8 M334.2,399.4 L338.4,399.4 M334.2,413.8 L338.4,413.8 M338.4,395.6 L338.4,402.8 M338.4,395.6 L339.2,395.6 M338.4,402.8 L339.2,402.8 M338.4,410.0 L338.4,417.2 M338.4,410.0 L339.2,410.0 M338.4,417.2 L339.2,417.2 M331.5,446.4 L331.5,471.8 M331.5,446.4 L335.5,446.4 M331.5,471.8 L335.9,471.8 M335.5,431.7 L335.5,460.6 M335.5,431.7 L339.2,431.7 M335.5,460.6 L339.2,460.6 M335.5,453.4 L339.2,453.4 M335.5,442.5 L338.4,442.5 M338.4,438.9 L338.4,446.1 M338.4,438.9 L339.2,438.9 M338.4,446.1 L339.2,446.1 M335.9,467.8 L335.9,475.0 M335.9,467.8 L339.2,467.8 M335.9,475.0 L339.2,475.0 M309.1,493.1 L309.1,526.2 M309.1,493.1 L325.2,493.1 M309.1,526.2 L319.2,526.2 M325.2,490.6 L325.2,503.9 M325.2,490.6 L329.3,490.6 M325.2,503.9 L339.2,503.9 M329.3,482.2 L329.3,493.9 M329.3,482.2 L339.2,482.2 M329.3,493.9 L335.2,493.9 M335.2,489.5 L335.2,496.7 M335.2,489.5 L339.2,489.5 M335.2,496.7 L339.2,496.7 M319.2,522.5 L319.2,540.0 M319.2,522.5 L331.9,522.5 M319.2,540.0 L339.2,540.0 M331.9,515.5 L331.9,529.5 M331.9,515.5 L336.3,515.5 M331.9,529.5 L336.3,529.5 M336.3,511.1 L336.3,518.3 M336.3,511.1 L339.2,511.1 M336.3,518.3 L339.2,518.3 M336.3,525.6 L336.3,532.8 M336.3,525.6 L339.2,525.6 M336.3,532.8 L339.2,532.8" fill="none" stroke="#5e5e5e" stroke-width="0.7"/>
<text x="265.80" y="537.80" font-size="11" font-weight="bold" fill="#000">I</text>
<line x1="275.40" y1="543.40" x2="275.40" y2="657.60" stroke="#d0405c" stroke-width="0.9"/>
<text x="278.90" y="554.20" font-size="7.8" font-weight="bold" fill="#111">Storage</text>
<rect x="342.30" y="547.30" width="7.76" height="7.78" fill="#ff0000"/>
<rect x="349.56" y="547.30" width="7.76" height="7.78" fill="#ffd2d2"/>
<rect x="356.82" y="547.30" width="7.76" height="7.78" fill="#0000fa"/>
<rect x="364.08" y="547.30" width="7.76" height="7.78" fill="#dce6fa"/>
<rect x="371.34" y="547.30" width="7.76" height="7.78" fill="#7882fa"/>
<rect x="378.60" y="547.30" width="7.76" height="7.78" fill="#6e78fa"/>
<rect x="385.86" y="547.30" width="7.76" height="7.78" fill="#646efa"/>
<rect x="393.12" y="547.30" width="7.76" height="7.78" fill="#96a0fa"/>
<rect x="400.38" y="547.30" width="7.76" height="7.78" fill="#c8d2fa"/>
<rect x="407.64" y="547.30" width="7.26" height="7.78" fill="#bec8fa"/>
<text x="419.00" y="552.24" font-size="6.9" fill="#151515">20:3 cholesteryl ester</text>
<rect x="342.30" y="554.58" width="7.76" height="7.78" fill="#ff5a5a"/>
<rect x="349.56" y="554.58" width="7.76" height="7.78" fill="#ff0000"/>
<rect x="356.82" y="554.58" width="7.76" height="7.78" fill="#0000fa"/>
<rect x="364.08" y="554.58" width="7.76" height="7.78" fill="#ff5a5a"/>
<rect x="371.34" y="554.58" width="7.76" height="7.78" fill="#ffaaaa"/>
<rect x="378.60" y="554.58" width="7.76" height="7.78" fill="#c8d2fa"/>
<rect x="385.86" y="554.58" width="7.76" height="7.78" fill="#aab4fa"/>
<rect x="393.12" y="554.58" width="7.76" height="7.78" fill="#ffd7d7"/>
<rect x="400.38" y="554.58" width="7.76" height="7.78" fill="#ff8c8c"/>
<rect x="407.64" y="554.58" width="7.26" height="7.78" fill="#f0fafa"/>
<text x="419.00" y="559.52" font-size="6.9" fill="#151515">18:3 cholesteryl ester</text>
<rect x="342.30" y="561.86" width="7.76" height="7.78" fill="#0000fa"/>
<rect x="349.56" y="561.86" width="7.76" height="7.78" fill="#ff0000"/>
<rect x="356.82" y="561.86" width="7.76" height="7.78" fill="#f0fafa"/>
<rect x="364.08" y="561.86" width="7.76" height="7.78" fill="#ff2828"/>
<rect x="371.34" y="561.86" width="7.76" height="7.78" fill="#ff8c8c"/>
<rect x="378.60" y="561.86" width="7.76" height="7.78" fill="#ffffff"/>
<rect x="385.86" y="561.86" width="7.76" height="7.78" fill="#ffd7d7"/>
<rect x="393.12" y="561.86" width="7.76" height="7.78" fill="#ffaaaa"/>
<rect x="400.38" y="561.86" width="7.76" height="7.78" fill="#ff7878"/>
<rect x="407.64" y="561.86" width="7.26" height="7.78" fill="#ff4646"/>
<text x="419.00" y="566.80" font-size="6.9" fill="#151515">20:5 cholesteryl ester</text>
<rect x="342.30" y="569.14" width="7.76" height="7.78" fill="#d2dcfa"/>
<rect x="349.56" y="569.14" width="7.76" height="7.78" fill="#ff0000"/>
<rect x="356.82" y="569.14" width="7.76" height="7.78" fill="#0000fa"/>
<rect x="364.08" y="569.14" width="7.76" height="7.78" fill="#ffbebe"/>
<rect x="371.34" y="569.14" width="7.76" height="7.78" fill="#aab4fa"/>
<rect x="378.60" y="569.14" width="7.76" height="7.78" fill="#f0fafa"/>
<rect x="385.86" y="569.14" width="7.76" height="7.78" fill="#fffafa"/>
<rect x="393.12" y="569.14" width="7.76" height="7.78" fill="#ffaaaa"/>
<rect x="400.38" y="569.14" width="7.76" height="7.78" fill="#ff6e6e"/>
<rect x="407.64" y="569.14" width="7.26" height="7.78" fill="#ff1414"/>
<text x="419.00" y="574.08" font-size="6.9" fill="#151515">20:2 cholesteryl ester</text>
<rect x="342.30" y="576.42" width="7.76" height="7.78" fill="#bec8fa"/>
<rect x="349.56" y="576.42" width="7.76" height="7.78" fill="#ff0000"/>
<rect x="356.82" y="576.42" width="7.76" height="7.78" fill="#0000fa"/>
<rect x="364.08" y="576.42" width="7.76" height="7.78" fill="#ffb4b4"/>
<rect x="371.34" y="576.42" width="7.76" height="7.78" fill="#ffffff"/>
<rect x="378.60" y="576.42" width="7.76" height="7.78" fill="#f5f5ff"/>
<rect x="385.86" y="576.42" width="7.76" height="7.78" fill="#fffafa"/>
<rect x="393.12" y="576.42" width="7.76" height="7.78" fill="#ff5050"/>
<rect x="400.38" y="576.42" width="7.76" height="7.78" fill="#ff1414"/>
<rect x="407.64" y="576.42" width="7.26" height="7.78" fill="#ff8c8c"/>
<text x="419.00" y="581.36" font-size="6.9" fill="#151515">18:2 cholesteryl ester</text>
<rect x="342.30" y="583.70" width="7.76" height="7.78" fill="#0000fa"/>
<rect x="349.56" y="583.70" width="7.76" height="7.78" fill="#ff0000"/>
<rect x="356.82" y="583.70" width="7.76" height="7.78" fill="#0000fa"/>
<rect x="364.08" y="583.70" width="7.76" height="7.78" fill="#d2dcfa"/>
<rect x="371.34" y="583.70" width="7.76" height="7.78" fill="#a0aafa"/>
<rect x="378.60" y="583.70" width="7.76" height="7.78" fill="#a0aafa"/>
<rect x="385.86" y="583.70" width="7.76" height="7.78" fill="#96a0fa"/>
<rect x="393.12" y="583.70" width="7.76" height="7.78" fill="#dce6fa"/>
<rect x="400.38" y="583.70" width="7.76" height="7.78" fill="#aab4fa"/>
<rect x="407.64" y="583.70" width="7.26" height="7.78" fill="#f5f5ff"/>
<text x="419.00" y="588.64" font-size="6.9" fill="#151515">16:2 cholesteryl ester</text>
<rect x="342.30" y="590.98" width="7.76" height="7.78" fill="#0000fa"/>
<rect x="349.56" y="590.98" width="7.76" height="7.78" fill="#0000fa"/>
<rect x="356.82" y="590.98" width="7.76" height="7.78" fill="#0000fa"/>
<rect x="364.08" y="590.98" width="7.76" height="7.78" fill="#0000fa"/>
<rect x="371.34" y="590.98" width="7.76" height="7.78" fill="#0000fa"/>
<rect x="378.60" y="590.98" width="7.76" height="7.78" fill="#0000fa"/>
<rect x="385.86" y="590.98" width="7.76" height="7.78" fill="#ffafaf"/>
<rect x="393.12" y="590.98" width="7.76" height="7.78" fill="#ff0000"/>
<rect x="400.38" y="590.98" width="7.76" height="7.78" fill="#ff7373"/>
<rect x="407.64" y="590.98" width="7.26" height="7.78" fill="#ff0000"/>
<text x="419.00" y="595.92" font-size="6.9" fill="#151515">20:1 cholesteryl ester</text>
<rect x="342.30" y="598.26" width="7.76" height="7.78" fill="#0000fa"/>
<rect x="349.56" y="598.26" width="7.76" height="7.78" fill="#c8d2fa"/>
<rect x="356.82" y="598.26" width="7.76" height="7.78" fill="#0000fa"/>
<rect x="364.08" y="598.26" width="7.76" height="7.78" fill="#aab4fa"/>
<rect x="371.34" y="598.26" width="7.76" height="7.78" fill="#6e78fa"/>
<rect x="378.60" y="598.26" width="7.76" height="7.78" fill="#ffbebe"/>
<rect x="385.86" y="598.26" width="7.76" height="7.78" fill="#ffb4b4"/>
<rect x="393.12" y="598.26" width="7.76" height="7.78" fill="#ff2828"/>
<rect x="400.38" y="598.26" width="7.76" height="7.78" fill="#ff5a5a"/>
<rect x="407.64" y="598.26" width="7.26" height="7.78" fill="#ff1414"/>
<text x="419.00" y="603.20" font-size="6.9" fill="#151515">20:4 cholesteryl ester</text>
<rect x="342.30" y="605.54" width="7.76" height="7.78" fill="#0000fa"/>
<rect x="349.56" y="605.54" width="7.76" height="7.78" fill="#ffeeee"/>
<rect x="356.82" y="605.54" width="7.76" height="7.78" fill="#1e28fa"/>
<rect x="364.08" y="605.54" width="7.76" height="7.78" fill="#c8d2fa"/>
<rect x="371.34" y="605.54" width="7.76" height="7.78" fill="#5a64fa"/>
<rect x="378.60" y="605.54" width="7.76" height="7.78" fill="#ff6e6e"/>
<rect x="385.86" y="605.54" width="7.76" height="7.78" fill="#ff6e6e"/>
<rect x="393.12" y="605.54" width="7.76" height="7.78" fill="#ff0000"/>
<rect x="400.38" y="605.54" width="7.76" height="7.78" fill="#ff3c3c"/>
<rect x="407.64" y="605.54" width="7.26" height="7.78" fill="#ff2828"/>
<text x="419.00" y="610.48" font-size="6.9" fill="#151515">16:1 cholesteryl ester</text>
<rect x="342.30" y="612.82" width="7.76" height="7.78" fill="#2832fa"/>
<rect x="349.56" y="612.82" width="7.76" height="7.78" fill="#ff2828"/>
<rect x="356.82" y="612.82" width="7.76" height="7.78" fill="#0000fa"/>
<rect x="364.08" y="612.82" width="7.76" height="7.78" fill="#dce6fa"/>
<rect x="371.34" y="612.82" width="7.76" height="7.78" fill="#a0aafa"/>
<rect x="378.60" y="612.82" width="7.76" height="7.78" fill="#ff9696"/>
<rect x="385.86" y="612.82" width="7.76" height="7.78" fill="#ffa0a0"/>
<rect x="393.12" y="612.82" width="7.76" height="7.78" fill="#ff0000"/>
<rect x="400.38" y="612.82" width="7.76" height="7.78" fill="#ff1e1e"/>
<rect x="407.64" y="612.82" width="7.26" height="7.78" fill="#ff5050"/>
<text x="419.00" y="617.76" font-size="6.9" fill="#151515">18:1 cholesteryl ester</text>
<rect x="342.30" y="620.10" width="7.76" height="7.78" fill="#0000fa"/>
<rect x="349.56" y="620.10" width="7.76" height="7.78" fill="#6e78fa"/>
<rect x="356.82" y="620.10" width="7.76" height="7.78" fill="#0000fa"/>
<rect x="364.08" y="620.10" width="7.76" height="7.78" fill="#0000fa"/>
<rect x="371.34" y="620.10" width="7.76" height="7.78" fill="#0000fa"/>
<rect x="378.60" y="620.10" width="7.76" height="7.78" fill="#ff5050"/>
<rect x="385.86" y="620.10" width="7.76" height="7.78" fill="#ff0000"/>
<rect x="393.12" y="620.10" width="7.76" height="7.78" fill="#ff8282"/>
<rect x="400.38" y="620.10" width="7.76" height="7.78" fill="#ff0000"/>
<rect x="407.64" y="620.10" width="7.26" height="7.78" fill="#ff0000"/>
<text x="419.00" y="625.04" font-size="6.9" fill="#151515">16:0 cholesteryl ester</text>
<rect x="342.30" y="627.38" width="7.76" height="7.78" fill="#323cfa"/>
<rect x="349.56" y="627.38" width="7.76" height="7.78" fill="#0000fa"/>
<rect x="356.82" y="627.38" width="7.76" height="7.78" fill="#0000fa"/>
<rect x="364.08" y="627.38" width="7.76" height="7.78" fill="#0000fa"/>
<rect x="371.34" y="627.38" width="7.76" height="7.78" fill="#0000fa"/>
<rect x="378.60" y="627.38" width="7.76" height="7.78" fill="#ff3c3c"/>
<rect x="385.86" y="627.38" width="7.76" height="7.78" fill="#ff6464"/>
<rect x="393.12" y="627.38" width="7.76" height="7.78" fill="#ff0000"/>
<rect x="400.38" y="627.38" width="7.76" height="7.78" fill="#ff4646"/>
<rect x="407.64" y="627.38" width="7.26" height="7.78" fill="#ff5050"/>
<text x="419.00" y="632.32" font-size="6.9" fill="#151515">18:0 cholesteryl ester</text>
<rect x="342.30" y="634.66" width="7.76" height="7.78" fill="#ffd2d2"/>
<rect x="349.56" y="634.66" width="7.76" height="7.78" fill="#0000fa"/>
<rect x="356.82" y="634.66" width="7.76" height="7.78" fill="#8c96fa"/>
<rect x="364.08" y="634.66" width="7.76" height="7.78" fill="#5a64fa"/>
<rect x="371.34" y="634.66" width="7.76" height="7.78" fill="#3c46fa"/>
<rect x="378.60" y="634.66" width="7.76" height="7.78" fill="#ff8282"/>
<rect x="385.86" y="634.66" width="7.76" height="7.78" fill="#ff5050"/>
<rect x="393.12" y="634.66" width="7.76" height="7.78" fill="#ff0000"/>
<rect x="400.38" y="634.66" width="7.76" height="7.78" fill="#ffdcdc"/>
<rect x="407.64" y="634.66" width="7.26" height="7.78" fill="#ff5050"/>
<text x="419.00" y="639.60" font-size="6.9" fill="#151515">Cholesterol</text>
<rect x="342.30" y="641.94" width="7.76" height="7.28" fill="#ff0000"/>
<rect x="349.56" y="641.94" width="7.76" height="7.28" fill="#141efa"/>
<rect x="356.82" y="641.94" width="7.76" height="7.28" fill="#1e28fa"/>
<rect x="364.08" y="641.94" width="7.76" height="7.28" fill="#1e28fa"/>
<rect x="371.34" y="641.94" width="7.76" height="7.28" fill="#323cfa"/>
<rect x="378.60" y="641.94" width="7.76" height="7.28" fill="#0000fa"/>
<rect x="385.86" y="641.94" width="7.76" height="7.28" fill="#0000fa"/>
<rect x="393.12" y="641.94" width="7.76" height="7.28" fill="#0000fa"/>
<rect x="400.38" y="641.94" width="7.76" height="7.28" fill="#0000fa"/>
<rect x="407.64" y="641.94" width="7.26" height="7.28" fill="#0000fa"/>
<text x="419.00" y="646.88" font-size="6.9" fill="#151515">18:3 cholesteryl ester</text>
<path d="M287.1,594.4 L287.1,644.5 M287.1,594.4 L311.5,594.4 M287.1,644.5 L339.2,644.5 M311.5,569.4 L311.5,616.5 M311.5,569.4 L318.9,569.4 M311.5,616.5 L327.5,616.5 M318.9,554.5 L318.9,576.5 M318.9,554.5 L336.5,554.5 M318.9,576.5 L332.4,576.5 M336.5,550.9 L336.5,558.1 M336.5,550.9 L339.2,550.9 M336.5,558.1 L339.2,558.1 M332.4,565.3 L332.4,580.2 M332.4,565.3 L339.2,565.3 M332.4,580.2 L336.1,580.2 M336.1,572.5 L336.1,586.9 M336.1,586.9 L339.2,586.9 M336.1,576.1 L338.2,576.1 M338.2,572.5 L338.2,579.7 M338.2,572.5 L339.2,572.5 M338.2,579.7 L339.2,579.7 M327.5,609.4 L327.5,634.4 M327.5,609.4 L331.3,609.4 M327.5,634.4 L333.5,634.4 M331.3,594.1 L331.3,622.9 M331.3,594.1 L339.2,594.1 M331.3,622.9 L339.2,622.9 M331.3,605.6 L334.4,605.6 M334.4,605.1 L334.4,615.7 M334.4,605.1 L337.5,605.1 M334.4,615.7 L339.2,615.7 M337.5,601.3 L337.5,608.5 M337.5,601.3 L339.2,601.3 M337.5,608.5 L339.2,608.5 M333.5,630.1 L333.5,637.3 M333.5,630.1 L339.2,630.1 M333.5,637.3 L339.2,637.3" fill="none" stroke="#5e5e5e" stroke-width="0.7"/>
<defs><linearGradient id="cb" x1="0" x2="1" y1="0" y2="0"><stop offset="0" stop-color="#0000f5"/><stop offset="0.5" stop-color="#ffffff"/><stop offset="1" stop-color="#f50000"/></linearGradient></defs>
<rect x="349.60" y="653.80" width="60.20" height="3.90" fill="url(#cb)"/>
<text x="348.80" y="666.10" font-size="7.2">Min</text>
<text x="410.80" y="666.10" font-size="7.0" text-anchor="end">Max</text>
<text x="7.00" y="456.40" font-size="11" font-weight="bold" fill="#000">F</text>
<text x="51.50" y="462.30" font-size="7.3" text-anchor="middle" font-style="italic">Tp53</text>
<line x1="44.38" y1="479.25" x2="44.38" y2="476.25" stroke="#222" stroke-width="0.8"/>
<line x1="42.17" y1="476.25" x2="46.58" y2="476.25" stroke="#222" stroke-width="0.8"/>
<rect x="40.00" y="479.25" width="8.75" height="55.15" fill="#154f88"/>
<line x1="58.12" y1="493.00" x2="58.12" y2="490.00" stroke="#222" stroke-width="0.8"/>
<line x1="55.92" y1="490.00" x2="60.33" y2="490.00" stroke="#222" stroke-width="0.8"/>
<rect x="53.75" y="493.00" width="8.75" height="41.40" fill="#c8163b"/>
<line x1="36.30" y1="467.50" x2="36.30" y2="534.80" stroke="#111" stroke-width="0.9"/>
<line x1="35.90" y1="534.40" x2="67.60" y2="534.40" stroke="#111" stroke-width="0.9"/>
<line x1="33.50" y1="469.50" x2="36.30" y2="469.50" stroke="#111" stroke-width="0.8"/>
<text x="29.70" y="472.60" font-size="7.9" text-anchor="end">10</text>
<line x1="33.50" y1="482.50" x2="36.30" y2="482.50" stroke="#111" stroke-width="0.8"/>
<text x="29.70" y="485.60" font-size="7.9" text-anchor="end">8</text>
<line x1="33.50" y1="495.50" x2="36.30" y2="495.50" stroke="#111" stroke-width="0.8"/>
<text x="29.70" y="498.60" font-size="7.9" text-anchor="end">6</text>
<line x1="33.50" y1="508.50" x2="36.30" y2="508.50" stroke="#111" stroke-width="0.8"/>
<text x="29.70" y="511.60" font-size="7.9" text-anchor="end">4</text>
<line x1="33.50" y1="521.50" x2="36.30" y2="521.50" stroke="#111" stroke-width="0.8"/>
<text x="29.70" y="524.60" font-size="7.9" text-anchor="end">2</text>
<line x1="33.50" y1="534.50" x2="36.30" y2="534.50" stroke="#111" stroke-width="0.8"/>
<text x="29.70" y="537.60" font-size="7.9" text-anchor="end">0</text>
<text x="51.40" y="476.00" font-size="7.0" text-anchor="middle" fill="#111">****</text>
<text transform="translate(12.00,500.00) rotate(-90)" x="0" y="0" font-size="8.6" text-anchor="middle" textLength="62.50" lengthAdjust="spacingAndGlyphs" dy="3.01" style="stroke-width:0.2px">Normalized expression</text>
<text x="104.20" y="457.20" font-size="11" font-weight="bold" fill="#000">G</text>
<text x="143.40" y="462.50" font-size="7.3" text-anchor="middle" font-style="italic">Steap3</text>
<line x1="136.55" y1="491.90" x2="136.55" y2="488.70" stroke="#222" stroke-width="0.8"/>
<line x1="134.35" y1="488.70" x2="138.75" y2="488.70" stroke="#222" stroke-width="0.8"/>
<rect x="132.10" y="491.90" width="8.90" height="42.70" fill="#154f88"/>
<line x1="150.85" y1="487.10" x2="150.85" y2="483.30" stroke="#222" stroke-width="0.8"/>
<line x1="148.65" y1="483.30" x2="153.05" y2="483.30" stroke="#222" stroke-width="0.8"/>
<rect x="146.40" y="487.10" width="8.90" height="47.50" fill="#c8163b"/>
<line x1="127.40" y1="466.50" x2="127.40" y2="535.00" stroke="#111" stroke-width="0.9"/>
<line x1="127.00" y1="534.60" x2="159.60" y2="534.60" stroke="#111" stroke-width="0.9"/>
<line x1="124.60" y1="470.32" x2="127.40" y2="470.32" stroke="#111" stroke-width="0.8"/>
<text x="122.20" y="473.42" font-size="7.9" text-anchor="end">8</text>
<line x1="124.60" y1="491.78" x2="127.40" y2="491.78" stroke="#111" stroke-width="0.8"/>
<text x="122.20" y="494.88" font-size="7.9" text-anchor="end">6</text>
<line x1="124.60" y1="513.24" x2="127.40" y2="513.24" stroke="#111" stroke-width="0.8"/>
<text x="122.20" y="516.34" font-size="7.9" text-anchor="end">4</text>
<line x1="124.60" y1="534.70" x2="127.40" y2="534.70" stroke="#111" stroke-width="0.8"/>
<text x="122.20" y="537.80" font-size="7.9" text-anchor="end">2</text>
<text x="143.20" y="475.00" font-size="7.0" text-anchor="middle" fill="#111">*</text>
<text transform="translate(109.30,499.80) rotate(-90)" x="0" y="0" font-size="8.6" text-anchor="middle" textLength="63.50" lengthAdjust="spacingAndGlyphs" dy="3.01" style="stroke-width:0.2px">Normalized expression</text>
<text x="238.50" y="462.60" font-size="7.7" text-anchor="middle" font-weight="bold" fill="#111">STEAP3</text>
<line x1="218.70" y1="466.50" x2="218.70" y2="535.00" stroke="#111" stroke-width="0.9"/>
<line x1="218.30" y1="534.60" x2="258.60" y2="534.60" stroke="#111" stroke-width="0.9"/>
<line x1="215.90" y1="470.10" x2="218.70" y2="470.10" stroke="#111" stroke-width="0.8"/>
<text x="213.40" y="473.00" font-size="7.6" text-anchor="end">0.8</text>
<line x1="215.90" y1="483.00" x2="218.70" y2="483.00" stroke="#111" stroke-width="0.8"/>
<text x="213.40" y="485.90" font-size="7.6" text-anchor="end">0.6</text>
<line x1="215.90" y1="495.90" x2="218.70" y2="495.90" stroke="#111" stroke-width="0.8"/>
<text x="213.40" y="498.80" font-size="7.6" text-anchor="end">0.4</text>
<line x1="215.90" y1="508.80" x2="218.70" y2="508.80" stroke="#111" stroke-width="0.8"/>
<text x="213.40" y="511.70" font-size="7.6" text-anchor="end">0.2</text>
<line x1="215.90" y1="521.70" x2="218.70" y2="521.70" stroke="#111" stroke-width="0.8"/>
<text x="213.40" y="524.60" font-size="7.6" text-anchor="end">0.0</text>
<line x1="215.90" y1="534.60" x2="218.70" y2="534.60" stroke="#111" stroke-width="0.8"/>
<text x="213.40" y="537.50" font-size="7.6" text-anchor="end">−0.2</text>
<text transform="translate(188.60,499.80) rotate(-90)" x="0" y="0" font-size="8.6" text-anchor="middle" textLength="79.50" lengthAdjust="spacingAndGlyphs" dy="3.01" style="stroke-width:0.2px">Relative abundance (emPAI)</text>
<line x1="229.9" y1="480" x2="229.9" y2="500.6" stroke="#1f5a94" stroke-width="0.9"/>
<rect x="224.4" y="487" width="11.1" height="12.2" fill="#93b3d3" stroke="#1f5a94" stroke-width="0.9"/>
<line x1="224.4" y1="494.2" x2="235.5" y2="494.2" stroke="#1f5a94" stroke-width="0.9"/>
<path d="M228.10,480.20 L229.90,478.40 L231.70,480.20 L229.90,482.00 Z" fill="#1f5a94"/>
<path d="M225.70,494.30 L227.50,492.50 L229.30,494.30 L227.50,496.10 Z" fill="#1f5a94"/>
<path d="M230.50,493.60 L232.30,491.80 L234.10,493.60 L232.30,495.40 Z" fill="#1f5a94"/>
<path d="M225.00,500.00 L226.80,498.20 L228.60,500.00 L226.80,501.80 Z" fill="#1f5a94"/>
<path d="M229.70,500.00 L231.50,498.20 L233.30,500.00 L231.50,501.80 Z" fill="#1f5a94"/>
<text x="238.60" y="475.00" font-size="7.0" text-anchor="middle" fill="#111">***</text>
<line x1="246.1" y1="516.8" x2="246.1" y2="521" stroke="#c8163b" stroke-width="0.9"/>
<rect x="240.6" y="519.8" width="11" height="2.8" rx="1.2" fill="#d83a5a" stroke="#c8163b" stroke-width="0.9"/>
<path d="M244.60,517.00 L246.10,515.50 L247.60,517.00 L246.10,518.50 Z" fill="#c8163b"/>
<path d="M241.00,522.00 L242.50,520.50 L244.00,522.00 L242.50,523.50 Z" fill="#c8163b"/>
<path d="M243.50,522.00 L245.00,520.50 L246.50,522.00 L245.00,523.50 Z" fill="#c8163b"/>
<path d="M246.20,522.00 L247.70,520.50 L249.20,522.00 L247.70,523.50 Z" fill="#c8163b"/>
<path d="M248.50,521.80 L250.00,520.30 L251.50,521.80 L250.00,523.30 Z" fill="#c8163b"/>
<text x="6.80" y="570.20" font-size="11" font-weight="bold" fill="#000">H</text>
<text x="59.00" y="575.20" font-size="7.7" text-anchor="middle" font-weight="bold" fill="#111">Uptake</text>
<text x="55.00" y="586.70" font-size="7.3" text-anchor="middle" font-style="italic">Abca1</text>
<line x1="40.12" y1="636.25" x2="40.12" y2="626.25" stroke="#222" stroke-width="0.8"/>
<line x1="37.92" y1="626.25" x2="42.33" y2="626.25" stroke="#222" stroke-width="0.8"/>
<rect x="35.75" y="636.25" width="8.75" height="22.35" fill="#154f88"/>
<line x1="53.88" y1="618.75" x2="53.88" y2="612.00" stroke="#222" stroke-width="0.8"/>
<line x1="51.67" y1="612.00" x2="56.08" y2="612.00" stroke="#222" stroke-width="0.8"/>
<rect x="49.50" y="618.75" width="8.75" height="39.85" fill="#c8163b"/>
<line x1="30.50" y1="590.00" x2="30.50" y2="659.00" stroke="#111" stroke-width="0.9"/>
<line x1="30.10" y1="658.60" x2="63.80" y2="658.60" stroke="#111" stroke-width="0.9"/>
<line x1="27.70" y1="593.23" x2="30.50" y2="593.23" stroke="#111" stroke-width="0.8"/>
<text x="25.20" y="596.33" font-size="7.9" text-anchor="end">8</text>
<line x1="27.70" y1="609.61" x2="30.50" y2="609.61" stroke="#111" stroke-width="0.8"/>
<text x="25.20" y="612.71" font-size="7.9" text-anchor="end">6</text>
<line x1="27.70" y1="625.99" x2="30.50" y2="625.99" stroke="#111" stroke-width="0.8"/>
<text x="25.20" y="629.09" font-size="7.9" text-anchor="end">4</text>
<line x1="27.70" y1="642.37" x2="30.50" y2="642.37" stroke="#111" stroke-width="0.8"/>
<text x="25.20" y="645.47" font-size="7.9" text-anchor="end">2</text>
<line x1="27.70" y1="658.75" x2="30.50" y2="658.75" stroke="#111" stroke-width="0.8"/>
<text x="25.20" y="661.85" font-size="7.9" text-anchor="end">0</text>
<text x="47.00" y="600.00" font-size="7.0" text-anchor="middle" fill="#111">*</text>
<text transform="translate(11.30,624.40) rotate(-90)" x="0" y="0" font-size="8.6" text-anchor="middle" textLength="63.70" lengthAdjust="spacingAndGlyphs" dy="3.01" style="stroke-width:0.2px">Normalized expression</text>
<text x="182.30" y="575.20" font-size="7.7" text-anchor="middle" font-weight="bold" fill="#111">Synthesis</text>
<line x1="105.50" y1="577.90" x2="258.60" y2="577.90" stroke="#d0405c" stroke-width="0.9"/>
<text x="122.50" y="586.70" font-size="7.3" text-anchor="middle" font-style="italic">Hmgcr</text>
<line x1="115.45" y1="606.80" x2="115.45" y2="604.20" stroke="#222" stroke-width="0.8"/>
<line x1="113.25" y1="604.20" x2="117.65" y2="604.20" stroke="#222" stroke-width="0.8"/>
<rect x="110.70" y="606.80" width="9.50" height="51.80" fill="#154f88"/>
<line x1="129.60" y1="614.00" x2="129.60" y2="611.70" stroke="#222" stroke-width="0.8"/>
<line x1="127.40" y1="611.70" x2="131.80" y2="611.70" stroke="#222" stroke-width="0.8"/>
<rect x="125.00" y="614.00" width="9.20" height="44.60" fill="#c8163b"/>
<line x1="106.40" y1="590.00" x2="106.40" y2="659.00" stroke="#111" stroke-width="0.9"/>
<line x1="106.00" y1="658.60" x2="136.80" y2="658.60" stroke="#111" stroke-width="0.9"/>
<line x1="103.60" y1="593.25" x2="106.40" y2="593.25" stroke="#111" stroke-width="0.8"/>
<text x="100.90" y="596.35" font-size="7.9" text-anchor="end">10</text>
<line x1="103.60" y1="609.62" x2="106.40" y2="609.62" stroke="#111" stroke-width="0.8"/>
<text x="100.90" y="612.73" font-size="7.9" text-anchor="end">9</text>
<line x1="103.60" y1="626.00" x2="106.40" y2="626.00" stroke="#111" stroke-width="0.8"/>
<text x="100.90" y="629.10" font-size="7.9" text-anchor="end">8</text>
<line x1="103.60" y1="642.38" x2="106.40" y2="642.38" stroke="#111" stroke-width="0.8"/>
<text x="100.90" y="645.48" font-size="7.9" text-anchor="end">7</text>
<line x1="103.60" y1="658.75" x2="106.40" y2="658.75" stroke="#111" stroke-width="0.8"/>
<text x="100.90" y="661.85" font-size="7.9" text-anchor="end">6</text>
<text x="122.80" y="600.40" font-size="7.0" text-anchor="middle" fill="#111">**</text>
<text transform="translate(82.50,624.40) rotate(-90)" x="0" y="0" font-size="8.6" text-anchor="middle" textLength="63.70" lengthAdjust="spacingAndGlyphs" dy="3.01" style="stroke-width:0.2px">Normalized expression</text>
<text x="179.60" y="586.70" font-size="7.3" text-anchor="middle" font-style="italic">Mvk</text>
<line x1="172.15" y1="617.60" x2="172.15" y2="614.30" stroke="#222" stroke-width="0.8"/>
<line x1="169.95" y1="614.30" x2="174.35" y2="614.30" stroke="#222" stroke-width="0.8"/>
<rect x="167.60" y="617.60" width="9.10" height="40.90" fill="#154f88"/>
<line x1="186.20" y1="629.00" x2="186.20" y2="622.20" stroke="#222" stroke-width="0.8"/>
<line x1="184.00" y1="622.20" x2="188.40" y2="622.20" stroke="#222" stroke-width="0.8"/>
<rect x="181.60" y="629.00" width="9.20" height="29.50" fill="#c8163b"/>
<line x1="163.60" y1="590.00" x2="163.60" y2="658.90" stroke="#111" stroke-width="0.9"/>
<line x1="163.20" y1="658.50" x2="193.20" y2="658.50" stroke="#111" stroke-width="0.9"/>
<line x1="160.80" y1="593.10" x2="163.60" y2="593.10" stroke="#111" stroke-width="0.8"/>
<text x="159.20" y="596.20" font-size="7.9" text-anchor="end">8</text>
<line x1="160.80" y1="609.45" x2="163.60" y2="609.45" stroke="#111" stroke-width="0.8"/>
<text x="159.20" y="612.55" font-size="7.9" text-anchor="end">7</text>
<line x1="160.80" y1="625.80" x2="163.60" y2="625.80" stroke="#111" stroke-width="0.8"/>
<text x="159.20" y="628.90" font-size="7.9" text-anchor="end">6</text>
<line x1="160.80" y1="642.15" x2="163.60" y2="642.15" stroke="#111" stroke-width="0.8"/>
<text x="159.20" y="645.25" font-size="7.9" text-anchor="end">5</text>
<line x1="160.80" y1="658.50" x2="163.60" y2="658.50" stroke="#111" stroke-width="0.8"/>
<text x="159.20" y="661.60" font-size="7.9" text-anchor="end">4</text>
<text x="179.30" y="600.00" font-size="7.0" text-anchor="middle" fill="#111">*</text>
<text x="242.00" y="586.70" font-size="7.3" text-anchor="middle" font-style="italic">Pmvk</text>
<line x1="235.25" y1="606.20" x2="235.25" y2="602.60" stroke="#222" stroke-width="0.8"/>
<line x1="233.05" y1="602.60" x2="237.45" y2="602.60" stroke="#222" stroke-width="0.8"/>
<rect x="230.70" y="606.20" width="9.10" height="52.30" fill="#154f88"/>
<line x1="249.45" y1="614.30" x2="249.45" y2="611.70" stroke="#222" stroke-width="0.8"/>
<line x1="247.25" y1="611.70" x2="251.65" y2="611.70" stroke="#222" stroke-width="0.8"/>
<rect x="244.70" y="614.30" width="9.50" height="44.20" fill="#c8163b"/>
<line x1="225.80" y1="590.00" x2="225.80" y2="658.90" stroke="#111" stroke-width="0.9"/>
<line x1="225.40" y1="658.50" x2="256.80" y2="658.50" stroke="#111" stroke-width="0.9"/>
<line x1="223.00" y1="593.10" x2="225.80" y2="593.10" stroke="#111" stroke-width="0.8"/>
<text x="220.30" y="596.20" font-size="7.9" text-anchor="end">10</text>
<line x1="223.00" y1="614.90" x2="225.80" y2="614.90" stroke="#111" stroke-width="0.8"/>
<text x="220.30" y="618.00" font-size="7.9" text-anchor="end">8</text>
<line x1="223.00" y1="636.70" x2="225.80" y2="636.70" stroke="#111" stroke-width="0.8"/>
<text x="220.30" y="639.80" font-size="7.9" text-anchor="end">6</text>
<line x1="223.00" y1="658.50" x2="225.80" y2="658.50" stroke="#111" stroke-width="0.8"/>
<text x="220.30" y="661.60" font-size="7.9" text-anchor="end">4</text>
<text x="242.60" y="600.00" font-size="7.0" text-anchor="middle" fill="#111">***</text>
<rect x="0" y="0" width="520" height="1.1" fill="#000"/><rect x="0" y="0" width="1.15" height="673" fill="#000"/><rect x="518.8" y="0" width="1.2" height="673" fill="#000"/><rect x="0" y="671.7" width="520" height="1.3" fill="#000"/>
</svg>
</body></html>
